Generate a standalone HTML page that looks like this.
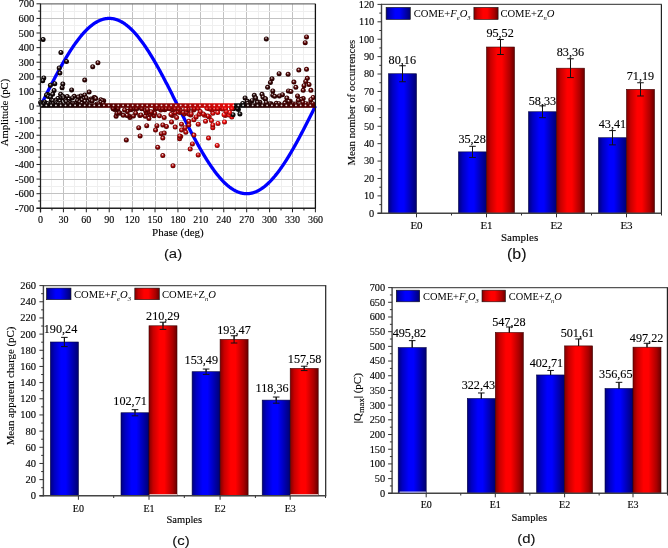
<!DOCTYPE html>
<html><head><meta charset="utf-8"><style>
html,body{margin:0;padding:0;background:#fff;width:668px;height:548px;overflow:hidden}
svg{display:block;will-change:transform}
</style></head><body>
<svg width="668" height="548" viewBox="0 0 668 548">
<defs>
<linearGradient id="gB" x1="0" x2="1" y1="0" y2="0">
<stop offset="0" stop-color="#000080"/><stop offset="0.15" stop-color="#0000c0"/><stop offset="0.38" stop-color="#0000ff"/><stop offset="0.55" stop-color="#0000ff"/><stop offset="0.85" stop-color="#0000a0"/><stop offset="1" stop-color="#000070"/></linearGradient>
<linearGradient id="gR" x1="0" x2="1" y1="0" y2="0">
<stop offset="0" stop-color="#800000"/><stop offset="0.15" stop-color="#c80000"/><stop offset="0.38" stop-color="#ff0000"/><stop offset="0.55" stop-color="#ff0000"/><stop offset="0.85" stop-color="#a80000"/><stop offset="1" stop-color="#680000"/></linearGradient>
</defs>
<rect width="668" height="548" fill="#fff"/>
<line x1="51.50" y1="3.80" x2="51.50" y2="208.30" stroke="#efefef" stroke-width="1" /><line x1="63.50" y1="3.80" x2="63.50" y2="208.30" stroke="#c2c2c2" stroke-width="1" /><line x1="74.50" y1="3.80" x2="74.50" y2="208.30" stroke="#efefef" stroke-width="1" /><line x1="86.50" y1="3.80" x2="86.50" y2="208.30" stroke="#c2c2c2" stroke-width="1" /><line x1="97.50" y1="3.80" x2="97.50" y2="208.30" stroke="#efefef" stroke-width="1" /><line x1="109.50" y1="3.80" x2="109.50" y2="208.30" stroke="#c2c2c2" stroke-width="1" /><line x1="120.50" y1="3.80" x2="120.50" y2="208.30" stroke="#efefef" stroke-width="1" /><line x1="132.50" y1="3.80" x2="132.50" y2="208.30" stroke="#c2c2c2" stroke-width="1" /><line x1="143.50" y1="3.80" x2="143.50" y2="208.30" stroke="#efefef" stroke-width="1" /><line x1="155.50" y1="3.80" x2="155.50" y2="208.30" stroke="#c2c2c2" stroke-width="1" /><line x1="166.50" y1="3.80" x2="166.50" y2="208.30" stroke="#efefef" stroke-width="1" /><line x1="177.50" y1="3.80" x2="177.50" y2="208.30" stroke="#c2c2c2" stroke-width="1" /><line x1="189.50" y1="3.80" x2="189.50" y2="208.30" stroke="#efefef" stroke-width="1" /><line x1="200.50" y1="3.80" x2="200.50" y2="208.30" stroke="#c2c2c2" stroke-width="1" /><line x1="212.50" y1="3.80" x2="212.50" y2="208.30" stroke="#efefef" stroke-width="1" /><line x1="223.50" y1="3.80" x2="223.50" y2="208.30" stroke="#c2c2c2" stroke-width="1" /><line x1="235.50" y1="3.80" x2="235.50" y2="208.30" stroke="#efefef" stroke-width="1" /><line x1="246.50" y1="3.80" x2="246.50" y2="208.30" stroke="#c2c2c2" stroke-width="1" /><line x1="258.50" y1="3.80" x2="258.50" y2="208.30" stroke="#efefef" stroke-width="1" /><line x1="269.50" y1="3.80" x2="269.50" y2="208.30" stroke="#c2c2c2" stroke-width="1" /><line x1="281.50" y1="3.80" x2="281.50" y2="208.30" stroke="#efefef" stroke-width="1" /><line x1="292.50" y1="3.80" x2="292.50" y2="208.30" stroke="#c2c2c2" stroke-width="1" /><line x1="303.50" y1="3.80" x2="303.50" y2="208.30" stroke="#efefef" stroke-width="1" /><line x1="40.50" y1="200.50" x2="315.40" y2="200.50" stroke="#efefef" stroke-width="1" /><line x1="40.50" y1="193.50" x2="315.40" y2="193.50" stroke="#c2c2c2" stroke-width="1" /><line x1="40.50" y1="186.50" x2="315.40" y2="186.50" stroke="#efefef" stroke-width="1" /><line x1="40.50" y1="179.50" x2="315.40" y2="179.50" stroke="#c2c2c2" stroke-width="1" /><line x1="40.50" y1="171.50" x2="315.40" y2="171.50" stroke="#efefef" stroke-width="1" /><line x1="40.50" y1="164.50" x2="315.40" y2="164.50" stroke="#c2c2c2" stroke-width="1" /><line x1="40.50" y1="157.50" x2="315.40" y2="157.50" stroke="#efefef" stroke-width="1" /><line x1="40.50" y1="149.50" x2="315.40" y2="149.50" stroke="#c2c2c2" stroke-width="1" /><line x1="40.50" y1="142.50" x2="315.40" y2="142.50" stroke="#efefef" stroke-width="1" /><line x1="40.50" y1="135.50" x2="315.40" y2="135.50" stroke="#c2c2c2" stroke-width="1" /><line x1="40.50" y1="127.50" x2="315.40" y2="127.50" stroke="#efefef" stroke-width="1" /><line x1="40.50" y1="120.50" x2="315.40" y2="120.50" stroke="#c2c2c2" stroke-width="1" /><line x1="40.50" y1="113.50" x2="315.40" y2="113.50" stroke="#efefef" stroke-width="1" /><line x1="40.50" y1="106.50" x2="315.40" y2="106.50" stroke="#c2c2c2" stroke-width="1" /><line x1="40.50" y1="98.50" x2="315.40" y2="98.50" stroke="#efefef" stroke-width="1" /><line x1="40.50" y1="91.50" x2="315.40" y2="91.50" stroke="#c2c2c2" stroke-width="1" /><line x1="40.50" y1="84.50" x2="315.40" y2="84.50" stroke="#efefef" stroke-width="1" /><line x1="40.50" y1="76.50" x2="315.40" y2="76.50" stroke="#c2c2c2" stroke-width="1" /><line x1="40.50" y1="69.50" x2="315.40" y2="69.50" stroke="#efefef" stroke-width="1" /><line x1="40.50" y1="62.50" x2="315.40" y2="62.50" stroke="#c2c2c2" stroke-width="1" /><line x1="40.50" y1="54.50" x2="315.40" y2="54.50" stroke="#efefef" stroke-width="1" /><line x1="40.50" y1="47.50" x2="315.40" y2="47.50" stroke="#c2c2c2" stroke-width="1" /><line x1="40.50" y1="40.50" x2="315.40" y2="40.50" stroke="#efefef" stroke-width="1" /><line x1="40.50" y1="33.50" x2="315.40" y2="33.50" stroke="#c2c2c2" stroke-width="1" /><line x1="40.50" y1="25.50" x2="315.40" y2="25.50" stroke="#efefef" stroke-width="1" /><line x1="40.50" y1="18.50" x2="315.40" y2="18.50" stroke="#c2c2c2" stroke-width="1" /><line x1="40.50" y1="11.50" x2="315.40" y2="11.50" stroke="#efefef" stroke-width="1" /><polyline points="40.50,106.05 40.88,105.29 41.26,104.52 41.65,103.76 42.03,102.99 42.41,102.23 42.79,101.46 43.17,100.70 43.55,99.94 43.94,99.17 44.32,98.41 44.70,97.65 45.08,96.89 45.46,96.13 45.85,95.37 46.23,94.61 46.61,93.85 46.99,93.10 47.37,92.34 47.75,91.58 48.14,90.83 48.52,90.08 48.90,89.33 49.28,88.58 49.66,87.83 50.05,87.08 50.43,86.33 50.81,85.59 51.19,84.85 51.57,84.11 51.95,83.37 52.34,82.63 52.72,81.89 53.10,81.16 53.48,80.43 53.86,79.70 54.24,78.97 54.63,78.24 55.01,77.52 55.39,76.79 55.77,76.07 56.15,75.36 56.54,74.64 56.92,73.93 57.30,73.22 57.68,72.51 58.06,71.81 58.44,71.10 58.83,70.40 59.21,69.71 59.59,69.01 59.97,68.32 60.35,67.63 60.74,66.94 61.12,66.26 61.50,65.58 61.88,64.90 62.26,64.23 62.64,63.56 63.03,62.89 63.41,62.23 63.79,61.57 64.17,60.91 64.55,60.26 64.94,59.61 65.32,58.96 65.70,58.32 66.08,57.68 66.46,57.04 66.84,56.41 67.23,55.78 67.61,55.16 67.99,54.53 68.37,53.92 68.75,53.31 69.14,52.70 69.52,52.09 69.90,51.49 70.28,50.89 70.66,50.30 71.04,49.71 71.43,49.13 71.81,48.55 72.19,47.98 72.57,47.41 72.95,46.84 73.34,46.28 73.72,45.72 74.10,45.17 74.48,44.62 74.86,44.08 75.24,43.54 75.63,43.01 76.01,42.48 76.39,41.95 76.77,41.43 77.15,40.92 77.54,40.41 77.92,39.91 78.30,39.41 78.68,38.91 79.06,38.42 79.44,37.94 79.83,37.46 80.21,36.99 80.59,36.52 80.97,36.06 81.35,35.60 81.73,35.15 82.12,34.70 82.50,34.26 82.88,33.82 83.26,33.39 83.64,32.97 84.03,32.55 84.41,32.13 84.79,31.72 85.17,31.32 85.55,30.93 85.93,30.53 86.32,30.15 86.70,29.77 87.08,29.40 87.46,29.03 87.84,28.67 88.23,28.31 88.61,27.96 88.99,27.62 89.37,27.28 89.75,26.94 90.13,26.62 90.52,26.30 90.90,25.98 91.28,25.68 91.66,25.37 92.04,25.08 92.43,24.79 92.81,24.51 93.19,24.23 93.57,23.96 93.95,23.69 94.33,23.43 94.72,23.18 95.10,22.94 95.48,22.70 95.86,22.46 96.24,22.24 96.63,22.02 97.01,21.80 97.39,21.59 97.77,21.39 98.15,21.20 98.53,21.01 98.92,20.83 99.30,20.65 99.68,20.48 100.06,20.32 100.44,20.17 100.83,20.02 101.21,19.87 101.59,19.74 101.97,19.61 102.35,19.49 102.73,19.37 103.12,19.26 103.50,19.16 103.88,19.06 104.26,18.97 104.64,18.89 105.03,18.81 105.41,18.74 105.79,18.68 106.17,18.62 106.55,18.57 106.93,18.53 107.32,18.49 107.70,18.46 108.08,18.44 108.46,18.42 108.84,18.41 109.22,18.41 109.61,18.41 109.99,18.42 110.37,18.44 110.75,18.46 111.13,18.49 111.52,18.53 111.90,18.57 112.28,18.62 112.66,18.68 113.04,18.74 113.42,18.81 113.81,18.89 114.19,18.97 114.57,19.06 114.95,19.16 115.33,19.26 115.72,19.37 116.10,19.49 116.48,19.61 116.86,19.74 117.24,19.87 117.62,20.02 118.01,20.17 118.39,20.32 118.77,20.48 119.15,20.65 119.53,20.83 119.92,21.01 120.30,21.20 120.68,21.39 121.06,21.59 121.44,21.80 121.82,22.02 122.21,22.24 122.59,22.46 122.97,22.70 123.35,22.94 123.73,23.18 124.12,23.43 124.50,23.69 124.88,23.96 125.26,24.23 125.64,24.51 126.02,24.79 126.41,25.08 126.79,25.37 127.17,25.68 127.55,25.98 127.93,26.30 128.32,26.62 128.70,26.94 129.08,27.28 129.46,27.62 129.84,27.96 130.22,28.31 130.61,28.67 130.99,29.03 131.37,29.40 131.75,29.77 132.13,30.15 132.52,30.53 132.90,30.93 133.28,31.32 133.66,31.72 134.04,32.13 134.42,32.55 134.81,32.97 135.19,33.39 135.57,33.82 135.95,34.26 136.33,34.70 136.71,35.15 137.10,35.60 137.48,36.06 137.86,36.52 138.24,36.99 138.62,37.46 139.01,37.94 139.39,38.42 139.77,38.91 140.15,39.41 140.53,39.91 140.91,40.41 141.30,40.92 141.68,41.43 142.06,41.95 142.44,42.48 142.82,43.01 143.21,43.54 143.59,44.08 143.97,44.62 144.35,45.17 144.73,45.72 145.11,46.28 145.50,46.84 145.88,47.41 146.26,47.98 146.64,48.55 147.02,49.13 147.41,49.71 147.79,50.30 148.17,50.89 148.55,51.49 148.93,52.09 149.31,52.70 149.70,53.31 150.08,53.92 150.46,54.53 150.84,55.16 151.22,55.78 151.61,56.41 151.99,57.04 152.37,57.68 152.75,58.32 153.13,58.96 153.51,59.61 153.90,60.26 154.28,60.91 154.66,61.57 155.04,62.23 155.42,62.89 155.81,63.56 156.19,64.23 156.57,64.90 156.95,65.58 157.33,66.26 157.71,66.94 158.10,67.63 158.48,68.32 158.86,69.01 159.24,69.71 159.62,70.40 160.01,71.10 160.39,71.81 160.77,72.51 161.15,73.22 161.53,73.93 161.91,74.64 162.30,75.36 162.68,76.07 163.06,76.79 163.44,77.52 163.82,78.24 164.20,78.97 164.59,79.70 164.97,80.43 165.35,81.16 165.73,81.89 166.11,82.63 166.50,83.37 166.88,84.11 167.26,84.85 167.64,85.59 168.02,86.33 168.40,87.08 168.79,87.83 169.17,88.58 169.55,89.33 169.93,90.08 170.31,90.83 170.70,91.58 171.08,92.34 171.46,93.10 171.84,93.85 172.22,94.61 172.60,95.37 172.99,96.13 173.37,96.89 173.75,97.65 174.13,98.41 174.51,99.17 174.90,99.94 175.28,100.70 175.66,101.46 176.04,102.23 176.42,102.99 176.80,103.76 177.19,104.52 177.57,105.29 177.95,106.05 178.33,106.81 178.71,107.58 179.10,108.34 179.48,109.11 179.86,109.87 180.24,110.64 180.62,111.40 181.00,112.16 181.39,112.93 181.77,113.69 182.15,114.45 182.53,115.21 182.91,115.97 183.30,116.73 183.68,117.49 184.06,118.25 184.44,119.00 184.82,119.76 185.20,120.52 185.59,121.27 185.97,122.02 186.35,122.77 186.73,123.52 187.11,124.27 187.50,125.02 187.88,125.77 188.26,126.51 188.64,127.25 189.02,127.99 189.40,128.73 189.79,129.47 190.17,130.21 190.55,130.94 190.93,131.67 191.31,132.40 191.69,133.13 192.08,133.86 192.46,134.58 192.84,135.31 193.22,136.03 193.60,136.74 193.99,137.46 194.37,138.17 194.75,138.88 195.13,139.59 195.51,140.29 195.89,141.00 196.28,141.70 196.66,142.39 197.04,143.09 197.42,143.78 197.80,144.47 198.19,145.16 198.57,145.84 198.95,146.52 199.33,147.20 199.71,147.87 200.09,148.54 200.48,149.21 200.86,149.87 201.24,150.53 201.62,151.19 202.00,151.84 202.39,152.49 202.77,153.14 203.15,153.78 203.53,154.42 203.91,155.06 204.29,155.69 204.68,156.32 205.06,156.94 205.44,157.57 205.82,158.18 206.20,158.79 206.59,159.40 206.97,160.01 207.35,160.61 207.73,161.21 208.11,161.80 208.49,162.39 208.88,162.97 209.26,163.55 209.64,164.12 210.02,164.69 210.40,165.26 210.79,165.82 211.17,166.38 211.55,166.93 211.93,167.48 212.31,168.02 212.69,168.56 213.08,169.09 213.46,169.62 213.84,170.15 214.22,170.67 214.60,171.18 214.99,171.69 215.37,172.19 215.75,172.69 216.13,173.19 216.51,173.68 216.89,174.16 217.28,174.64 217.66,175.11 218.04,175.58 218.42,176.04 218.80,176.50 219.18,176.95 219.57,177.40 219.95,177.84 220.33,178.28 220.71,178.71 221.09,179.13 221.48,179.55 221.86,179.97 222.24,180.38 222.62,180.78 223.00,181.17 223.38,181.57 223.77,181.95 224.15,182.33 224.53,182.70 224.91,183.07 225.29,183.43 225.68,183.79 226.06,184.14 226.44,184.48 226.82,184.82 227.20,185.16 227.58,185.48 227.97,185.80 228.35,186.12 228.73,186.42 229.11,186.73 229.49,187.02 229.88,187.31 230.26,187.59 230.64,187.87 231.02,188.14 231.40,188.41 231.78,188.67 232.17,188.92 232.55,189.16 232.93,189.40 233.31,189.64 233.69,189.86 234.08,190.08 234.46,190.30 234.84,190.51 235.22,190.71 235.60,190.90 235.98,191.09 236.37,191.27 236.75,191.45 237.13,191.62 237.51,191.78 237.89,191.93 238.28,192.08 238.66,192.23 239.04,192.36 239.42,192.49 239.80,192.61 240.18,192.73 240.57,192.84 240.95,192.94 241.33,193.04 241.71,193.13 242.09,193.21 242.48,193.29 242.86,193.36 243.24,193.42 243.62,193.48 244.00,193.53 244.38,193.57 244.77,193.61 245.15,193.64 245.53,193.66 245.91,193.68 246.29,193.69 246.68,193.69 247.06,193.69 247.44,193.68 247.82,193.66 248.20,193.64 248.58,193.61 248.97,193.57 249.35,193.53 249.73,193.48 250.11,193.42 250.49,193.36 250.87,193.29 251.26,193.21 251.64,193.13 252.02,193.04 252.40,192.94 252.78,192.84 253.17,192.73 253.55,192.61 253.93,192.49 254.31,192.36 254.69,192.23 255.07,192.08 255.46,191.93 255.84,191.78 256.22,191.62 256.60,191.45 256.98,191.27 257.37,191.09 257.75,190.90 258.13,190.71 258.51,190.51 258.89,190.30 259.27,190.08 259.66,189.86 260.04,189.64 260.42,189.40 260.80,189.16 261.18,188.92 261.57,188.67 261.95,188.41 262.33,188.14 262.71,187.87 263.09,187.59 263.47,187.31 263.86,187.02 264.24,186.73 264.62,186.42 265.00,186.12 265.38,185.80 265.77,185.48 266.15,185.16 266.53,184.82 266.91,184.48 267.29,184.14 267.67,183.79 268.06,183.43 268.44,183.07 268.82,182.70 269.20,182.33 269.58,181.95 269.97,181.57 270.35,181.17 270.73,180.78 271.11,180.38 271.49,179.97 271.87,179.55 272.26,179.13 272.64,178.71 273.02,178.28 273.40,177.84 273.78,177.40 274.16,176.95 274.55,176.50 274.93,176.04 275.31,175.58 275.69,175.11 276.07,174.64 276.46,174.16 276.84,173.68 277.22,173.19 277.60,172.69 277.98,172.19 278.36,171.69 278.75,171.18 279.13,170.67 279.51,170.15 279.89,169.62 280.27,169.09 280.66,168.56 281.04,168.02 281.42,167.48 281.80,166.93 282.18,166.38 282.56,165.82 282.95,165.26 283.33,164.69 283.71,164.12 284.09,163.55 284.47,162.97 284.86,162.39 285.24,161.80 285.62,161.21 286.00,160.61 286.38,160.01 286.76,159.40 287.15,158.79 287.53,158.18 287.91,157.57 288.29,156.94 288.67,156.32 289.06,155.69 289.44,155.06 289.82,154.42 290.20,153.78 290.58,153.14 290.96,152.49 291.35,151.84 291.73,151.19 292.11,150.53 292.49,149.87 292.87,149.21 293.26,148.54 293.64,147.87 294.02,147.20 294.40,146.52 294.78,145.84 295.16,145.16 295.55,144.47 295.93,143.78 296.31,143.09 296.69,142.39 297.07,141.70 297.46,141.00 297.84,140.29 298.22,139.59 298.60,138.88 298.98,138.17 299.36,137.46 299.75,136.74 300.13,136.03 300.51,135.31 300.89,134.58 301.27,133.86 301.65,133.13 302.04,132.40 302.42,131.67 302.80,130.94 303.18,130.21 303.56,129.47 303.95,128.73 304.33,127.99 304.71,127.25 305.09,126.51 305.47,125.77 305.85,125.02 306.24,124.27 306.62,123.52 307.00,122.77 307.38,122.02 307.76,121.27 308.15,120.52 308.53,119.76 308.91,119.00 309.29,118.25 309.67,117.49 310.05,116.73 310.44,115.97 310.82,115.21 311.20,114.45 311.58,113.69 311.96,112.93 312.35,112.16 312.73,111.40 313.11,110.64 313.49,109.87 313.87,109.11 314.25,108.34 314.64,107.58 315.02,106.81 315.40,106.05" fill="none" stroke="#0000ff" stroke-width="3.3" stroke-linejoin="round"/><defs><radialGradient id="s349" cx="0.5" cy="0.5" r="0.55" fx="0.42" fy="0.3"><stop offset="0" stop-color="#ffffff"/><stop offset="0.22" stop-color="#a57373"/><stop offset="0.5" stop-color="#5c0101"/><stop offset="1" stop-color="#290000"/></radialGradient><radialGradient id="s295" cx="0.5" cy="0.5" r="0.55" fx="0.42" fy="0.3"><stop offset="0" stop-color="#ffffff"/><stop offset="0.22" stop-color="#8e7676"/><stop offset="0.5" stop-color="#330606"/><stop offset="1" stop-color="#160202"/></radialGradient><radialGradient id="s4" cx="0.5" cy="0.5" r="0.55" fx="0.42" fy="0.3"><stop offset="0" stop-color="#ffffff"/><stop offset="0.22" stop-color="#7b7676"/><stop offset="0.5" stop-color="#0f0606"/><stop offset="1" stop-color="#060202"/></radialGradient><radialGradient id="s346" cx="0.5" cy="0.5" r="0.55" fx="0.42" fy="0.3"><stop offset="0" stop-color="#ffffff"/><stop offset="0.22" stop-color="#a47373"/><stop offset="0.5" stop-color="#5a0101"/><stop offset="1" stop-color="#280000"/></radialGradient><radialGradient id="s172" cx="0.5" cy="0.5" r="0.55" fx="0.42" fy="0.3"><stop offset="0" stop-color="#ffffff"/><stop offset="0.22" stop-color="#ce7575"/><stop offset="0.5" stop-color="#a60505"/><stop offset="1" stop-color="#4a0202"/></radialGradient><radialGradient id="s25" cx="0.5" cy="0.5" r="0.55" fx="0.42" fy="0.3"><stop offset="0" stop-color="#ffffff"/><stop offset="0.22" stop-color="#7f7575"/><stop offset="0.5" stop-color="#170505"/><stop offset="1" stop-color="#0a0202"/></radialGradient><radialGradient id="s160" cx="0.5" cy="0.5" r="0.55" fx="0.42" fy="0.3"><stop offset="0" stop-color="#ffffff"/><stop offset="0.22" stop-color="#c77474"/><stop offset="0.5" stop-color="#9a0404"/><stop offset="1" stop-color="#450101"/></radialGradient><radialGradient id="s205" cx="0.5" cy="0.5" r="0.55" fx="0.42" fy="0.3"><stop offset="0" stop-color="#ffffff"/><stop offset="0.22" stop-color="#e17676"/><stop offset="0.5" stop-color="#c90707"/><stop offset="1" stop-color="#5a0303"/></radialGradient><radialGradient id="s34" cx="0.5" cy="0.5" r="0.55" fx="0.42" fy="0.3"><stop offset="0" stop-color="#ffffff"/><stop offset="0.22" stop-color="#827474"/><stop offset="0.5" stop-color="#1d0404"/><stop offset="1" stop-color="#0d0101"/></radialGradient><radialGradient id="s76" cx="0.5" cy="0.5" r="0.55" fx="0.42" fy="0.3"><stop offset="0" stop-color="#ffffff"/><stop offset="0.22" stop-color="#957373"/><stop offset="0.5" stop-color="#3f0101"/><stop offset="1" stop-color="#1c0000"/></radialGradient><radialGradient id="s196" cx="0.5" cy="0.5" r="0.55" fx="0.42" fy="0.3"><stop offset="0" stop-color="#ffffff"/><stop offset="0.22" stop-color="#db7676"/><stop offset="0.5" stop-color="#bf0606"/><stop offset="1" stop-color="#550202"/></radialGradient><radialGradient id="s154" cx="0.5" cy="0.5" r="0.55" fx="0.42" fy="0.3"><stop offset="0" stop-color="#ffffff"/><stop offset="0.22" stop-color="#c47474"/><stop offset="0.5" stop-color="#940404"/><stop offset="1" stop-color="#420101"/></radialGradient><radialGradient id="s232" cx="0.5" cy="0.5" r="0.55" fx="0.42" fy="0.3"><stop offset="0" stop-color="#ffffff"/><stop offset="0.22" stop-color="#f17777"/><stop offset="0.5" stop-color="#e70909"/><stop offset="1" stop-color="#670404"/></radialGradient><radialGradient id="s67" cx="0.5" cy="0.5" r="0.55" fx="0.42" fy="0.3"><stop offset="0" stop-color="#ffffff"/><stop offset="0.22" stop-color="#907373"/><stop offset="0.5" stop-color="#360202"/><stop offset="1" stop-color="#180000"/></radialGradient><radialGradient id="s199" cx="0.5" cy="0.5" r="0.55" fx="0.42" fy="0.3"><stop offset="0" stop-color="#ffffff"/><stop offset="0.22" stop-color="#de7676"/><stop offset="0.5" stop-color="#c30606"/><stop offset="1" stop-color="#570202"/></radialGradient><radialGradient id="s337" cx="0.5" cy="0.5" r="0.55" fx="0.42" fy="0.3"><stop offset="0" stop-color="#ffffff"/><stop offset="0.22" stop-color="#a07373"/><stop offset="0.5" stop-color="#530202"/><stop offset="1" stop-color="#250000"/></radialGradient><radialGradient id="s112" cx="0.5" cy="0.5" r="0.55" fx="0.42" fy="0.3"><stop offset="0" stop-color="#ffffff"/><stop offset="0.22" stop-color="#ae7373"/><stop offset="0.5" stop-color="#6d0101"/><stop offset="1" stop-color="#310000"/></radialGradient><radialGradient id="s181" cx="0.5" cy="0.5" r="0.55" fx="0.42" fy="0.3"><stop offset="0" stop-color="#ffffff"/><stop offset="0.22" stop-color="#d37575"/><stop offset="0.5" stop-color="#af0505"/><stop offset="1" stop-color="#4e0202"/></radialGradient><radialGradient id="s313" cx="0.5" cy="0.5" r="0.55" fx="0.42" fy="0.3"><stop offset="0" stop-color="#ffffff"/><stop offset="0.22" stop-color="#967474"/><stop offset="0.5" stop-color="#410404"/><stop offset="1" stop-color="#1d0101"/></radialGradient><radialGradient id="s220" cx="0.5" cy="0.5" r="0.55" fx="0.42" fy="0.3"><stop offset="0" stop-color="#ffffff"/><stop offset="0.22" stop-color="#ea7777"/><stop offset="0.5" stop-color="#da0808"/><stop offset="1" stop-color="#620303"/></radialGradient><radialGradient id="s325" cx="0.5" cy="0.5" r="0.55" fx="0.42" fy="0.3"><stop offset="0" stop-color="#ffffff"/><stop offset="0.22" stop-color="#9b7474"/><stop offset="0.5" stop-color="#4a0303"/><stop offset="1" stop-color="#210101"/></radialGradient><radialGradient id="s184" cx="0.5" cy="0.5" r="0.55" fx="0.42" fy="0.3"><stop offset="0" stop-color="#ffffff"/><stop offset="0.22" stop-color="#d47575"/><stop offset="0.5" stop-color="#b20505"/><stop offset="1" stop-color="#500202"/></radialGradient><radialGradient id="s130" cx="0.5" cy="0.5" r="0.55" fx="0.42" fy="0.3"><stop offset="0" stop-color="#ffffff"/><stop offset="0.22" stop-color="#b77373"/><stop offset="0.5" stop-color="#7d0202"/><stop offset="1" stop-color="#380000"/></radialGradient><radialGradient id="s157" cx="0.5" cy="0.5" r="0.55" fx="0.42" fy="0.3"><stop offset="0" stop-color="#ffffff"/><stop offset="0.22" stop-color="#c57474"/><stop offset="0.5" stop-color="#970404"/><stop offset="1" stop-color="#430101"/></radialGradient><radialGradient id="s304" cx="0.5" cy="0.5" r="0.55" fx="0.42" fy="0.3"><stop offset="0" stop-color="#ffffff"/><stop offset="0.22" stop-color="#927575"/><stop offset="0.5" stop-color="#3a0505"/><stop offset="1" stop-color="#1a0202"/></radialGradient><radialGradient id="s190" cx="0.5" cy="0.5" r="0.55" fx="0.42" fy="0.3"><stop offset="0" stop-color="#ffffff"/><stop offset="0.22" stop-color="#d87676"/><stop offset="0.5" stop-color="#b90606"/><stop offset="1" stop-color="#530202"/></radialGradient><radialGradient id="s58" cx="0.5" cy="0.5" r="0.55" fx="0.42" fy="0.3"><stop offset="0" stop-color="#ffffff"/><stop offset="0.22" stop-color="#8c7474"/><stop offset="0.5" stop-color="#2f0303"/><stop offset="1" stop-color="#150101"/></radialGradient><radialGradient id="s1" cx="0.5" cy="0.5" r="0.55" fx="0.42" fy="0.3"><stop offset="0" stop-color="#ffffff"/><stop offset="0.22" stop-color="#7a7676"/><stop offset="0.5" stop-color="#0e0606"/><stop offset="1" stop-color="#060202"/></radialGradient><radialGradient id="s151" cx="0.5" cy="0.5" r="0.55" fx="0.42" fy="0.3"><stop offset="0" stop-color="#ffffff"/><stop offset="0.22" stop-color="#c27474"/><stop offset="0.5" stop-color="#910303"/><stop offset="1" stop-color="#410101"/></radialGradient><radialGradient id="s331" cx="0.5" cy="0.5" r="0.55" fx="0.42" fy="0.3"><stop offset="0" stop-color="#ffffff"/><stop offset="0.22" stop-color="#9d7373"/><stop offset="0.5" stop-color="#4e0202"/><stop offset="1" stop-color="#230000"/></radialGradient><radialGradient id="s301" cx="0.5" cy="0.5" r="0.55" fx="0.42" fy="0.3"><stop offset="0" stop-color="#ffffff"/><stop offset="0.22" stop-color="#917575"/><stop offset="0.5" stop-color="#370505"/><stop offset="1" stop-color="#180202"/></radialGradient><radialGradient id="s19" cx="0.5" cy="0.5" r="0.55" fx="0.42" fy="0.3"><stop offset="0" stop-color="#ffffff"/><stop offset="0.22" stop-color="#7d7575"/><stop offset="0.5" stop-color="#140505"/><stop offset="1" stop-color="#090202"/></radialGradient><radialGradient id="s28" cx="0.5" cy="0.5" r="0.55" fx="0.42" fy="0.3"><stop offset="0" stop-color="#ffffff"/><stop offset="0.22" stop-color="#807575"/><stop offset="0.5" stop-color="#190505"/><stop offset="1" stop-color="#0b0202"/></radialGradient><radialGradient id="s127" cx="0.5" cy="0.5" r="0.55" fx="0.42" fy="0.3"><stop offset="0" stop-color="#ffffff"/><stop offset="0.22" stop-color="#b57373"/><stop offset="0.5" stop-color="#7a0202"/><stop offset="1" stop-color="#360000"/></radialGradient><radialGradient id="s226" cx="0.5" cy="0.5" r="0.55" fx="0.42" fy="0.3"><stop offset="0" stop-color="#ffffff"/><stop offset="0.22" stop-color="#ed7777"/><stop offset="0.5" stop-color="#e00808"/><stop offset="1" stop-color="#640303"/></radialGradient><radialGradient id="s352" cx="0.5" cy="0.5" r="0.55" fx="0.42" fy="0.3"><stop offset="0" stop-color="#ffffff"/><stop offset="0.22" stop-color="#a67373"/><stop offset="0.5" stop-color="#5e0101"/><stop offset="1" stop-color="#2a0000"/></radialGradient><radialGradient id="s175" cx="0.5" cy="0.5" r="0.55" fx="0.42" fy="0.3"><stop offset="0" stop-color="#ffffff"/><stop offset="0.22" stop-color="#cf7575"/><stop offset="0.5" stop-color="#a90505"/><stop offset="1" stop-color="#4c0202"/></radialGradient><radialGradient id="s13" cx="0.5" cy="0.5" r="0.55" fx="0.42" fy="0.3"><stop offset="0" stop-color="#ffffff"/><stop offset="0.22" stop-color="#7c7676"/><stop offset="0.5" stop-color="#120606"/><stop offset="1" stop-color="#080202"/></radialGradient><radialGradient id="s163" cx="0.5" cy="0.5" r="0.55" fx="0.42" fy="0.3"><stop offset="0" stop-color="#ffffff"/><stop offset="0.22" stop-color="#c97474"/><stop offset="0.5" stop-color="#9d0404"/><stop offset="1" stop-color="#460101"/></radialGradient><radialGradient id="s139" cx="0.5" cy="0.5" r="0.55" fx="0.42" fy="0.3"><stop offset="0" stop-color="#ffffff"/><stop offset="0.22" stop-color="#bb7474"/><stop offset="0.5" stop-color="#850303"/><stop offset="1" stop-color="#3b0101"/></radialGradient><radialGradient id="s193" cx="0.5" cy="0.5" r="0.55" fx="0.42" fy="0.3"><stop offset="0" stop-color="#ffffff"/><stop offset="0.22" stop-color="#da7676"/><stop offset="0.5" stop-color="#bc0606"/><stop offset="1" stop-color="#540202"/></radialGradient><radialGradient id="s298" cx="0.5" cy="0.5" r="0.55" fx="0.42" fy="0.3"><stop offset="0" stop-color="#ffffff"/><stop offset="0.22" stop-color="#8f7575"/><stop offset="0.5" stop-color="#350505"/><stop offset="1" stop-color="#170202"/></radialGradient><radialGradient id="s334" cx="0.5" cy="0.5" r="0.55" fx="0.42" fy="0.3"><stop offset="0" stop-color="#ffffff"/><stop offset="0.22" stop-color="#9f7373"/><stop offset="0.5" stop-color="#510202"/><stop offset="1" stop-color="#240000"/></radialGradient><radialGradient id="s40" cx="0.5" cy="0.5" r="0.55" fx="0.42" fy="0.3"><stop offset="0" stop-color="#ffffff"/><stop offset="0.22" stop-color="#847474"/><stop offset="0.5" stop-color="#210404"/><stop offset="1" stop-color="#0e0101"/></radialGradient><radialGradient id="s241" cx="0.5" cy="0.5" r="0.55" fx="0.42" fy="0.3"><stop offset="0" stop-color="#ffffff"/><stop offset="0.22" stop-color="#f77777"/><stop offset="0.5" stop-color="#f20909"/><stop offset="1" stop-color="#6c0404"/></radialGradient><radialGradient id="s343" cx="0.5" cy="0.5" r="0.55" fx="0.42" fy="0.3"><stop offset="0" stop-color="#ffffff"/><stop offset="0.22" stop-color="#a27373"/><stop offset="0.5" stop-color="#570101"/><stop offset="1" stop-color="#270000"/></radialGradient><radialGradient id="s355" cx="0.5" cy="0.5" r="0.55" fx="0.42" fy="0.3"><stop offset="0" stop-color="#ffffff"/><stop offset="0.22" stop-color="#a87272"/><stop offset="0.5" stop-color="#610000"/><stop offset="1" stop-color="#2b0000"/></radialGradient><radialGradient id="s16" cx="0.5" cy="0.5" r="0.55" fx="0.42" fy="0.3"><stop offset="0" stop-color="#ffffff"/><stop offset="0.22" stop-color="#7d7575"/><stop offset="0.5" stop-color="#130505"/><stop offset="1" stop-color="#080202"/></radialGradient><radialGradient id="s217" cx="0.5" cy="0.5" r="0.55" fx="0.42" fy="0.3"><stop offset="0" stop-color="#ffffff"/><stop offset="0.22" stop-color="#e87777"/><stop offset="0.5" stop-color="#d60808"/><stop offset="1" stop-color="#600303"/></radialGradient><radialGradient id="s328" cx="0.5" cy="0.5" r="0.55" fx="0.42" fy="0.3"><stop offset="0" stop-color="#ffffff"/><stop offset="0.22" stop-color="#9c7474"/><stop offset="0.5" stop-color="#4c0303"/><stop offset="1" stop-color="#220101"/></radialGradient><radialGradient id="s223" cx="0.5" cy="0.5" r="0.55" fx="0.42" fy="0.3"><stop offset="0" stop-color="#ffffff"/><stop offset="0.22" stop-color="#ec7777"/><stop offset="0.5" stop-color="#dd0808"/><stop offset="1" stop-color="#630303"/></radialGradient><radialGradient id="s64" cx="0.5" cy="0.5" r="0.55" fx="0.42" fy="0.3"><stop offset="0" stop-color="#ffffff"/><stop offset="0.22" stop-color="#8f7373"/><stop offset="0.5" stop-color="#340202"/><stop offset="1" stop-color="#170000"/></radialGradient><radialGradient id="s142" cx="0.5" cy="0.5" r="0.55" fx="0.42" fy="0.3"><stop offset="0" stop-color="#ffffff"/><stop offset="0.22" stop-color="#bd7474"/><stop offset="0.5" stop-color="#880303"/><stop offset="1" stop-color="#3d0101"/></radialGradient><radialGradient id="s289" cx="0.5" cy="0.5" r="0.55" fx="0.42" fy="0.3"><stop offset="0" stop-color="#ffffff"/><stop offset="0.22" stop-color="#8c7676"/><stop offset="0.5" stop-color="#2e0606"/><stop offset="1" stop-color="#140202"/></radialGradient><radialGradient id="s10" cx="0.5" cy="0.5" r="0.55" fx="0.42" fy="0.3"><stop offset="0" stop-color="#ffffff"/><stop offset="0.22" stop-color="#7b7676"/><stop offset="0.5" stop-color="#100606"/><stop offset="1" stop-color="#070202"/></radialGradient><radialGradient id="s118" cx="0.5" cy="0.5" r="0.55" fx="0.42" fy="0.3"><stop offset="0" stop-color="#ffffff"/><stop offset="0.22" stop-color="#b27373"/><stop offset="0.5" stop-color="#730101"/><stop offset="1" stop-color="#330000"/></radialGradient><radialGradient id="s178" cx="0.5" cy="0.5" r="0.55" fx="0.42" fy="0.3"><stop offset="0" stop-color="#ffffff"/><stop offset="0.22" stop-color="#d17575"/><stop offset="0.5" stop-color="#ac0505"/><stop offset="1" stop-color="#4d0202"/></radialGradient><radialGradient id="s316" cx="0.5" cy="0.5" r="0.55" fx="0.42" fy="0.3"><stop offset="0" stop-color="#ffffff"/><stop offset="0.22" stop-color="#977474"/><stop offset="0.5" stop-color="#430404"/><stop offset="1" stop-color="#1e0101"/></radialGradient><radialGradient id="s7" cx="0.5" cy="0.5" r="0.55" fx="0.42" fy="0.3"><stop offset="0" stop-color="#ffffff"/><stop offset="0.22" stop-color="#7b7676"/><stop offset="0.5" stop-color="#0f0606"/><stop offset="1" stop-color="#060202"/></radialGradient><radialGradient id="s280" cx="0.5" cy="0.5" r="0.55" fx="0.42" fy="0.3"><stop offset="0" stop-color="#ffffff"/><stop offset="0.22" stop-color="#887676"/><stop offset="0.5" stop-color="#280707"/><stop offset="1" stop-color="#120303"/></radialGradient><radialGradient id="s202" cx="0.5" cy="0.5" r="0.55" fx="0.42" fy="0.3"><stop offset="0" stop-color="#ffffff"/><stop offset="0.22" stop-color="#df7676"/><stop offset="0.5" stop-color="#c60707"/><stop offset="1" stop-color="#590303"/></radialGradient><radialGradient id="s250" cx="0.5" cy="0.5" r="0.55" fx="0.42" fy="0.3"><stop offset="0" stop-color="#ffffff"/><stop offset="0.22" stop-color="#fd7878"/><stop offset="0.5" stop-color="#fc0a0a"/><stop offset="1" stop-color="#710404"/></radialGradient><radialGradient id="s100" cx="0.5" cy="0.5" r="0.55" fx="0.42" fy="0.3"><stop offset="0" stop-color="#ffffff"/><stop offset="0.22" stop-color="#a97373"/><stop offset="0.5" stop-color="#640101"/><stop offset="1" stop-color="#2d0000"/></radialGradient><radialGradient id="s136" cx="0.5" cy="0.5" r="0.55" fx="0.42" fy="0.3"><stop offset="0" stop-color="#ffffff"/><stop offset="0.22" stop-color="#ba7373"/><stop offset="0.5" stop-color="#830202"/><stop offset="1" stop-color="#3a0000"/></radialGradient><radialGradient id="s52" cx="0.5" cy="0.5" r="0.55" fx="0.42" fy="0.3"><stop offset="0" stop-color="#ffffff"/><stop offset="0.22" stop-color="#897474"/><stop offset="0.5" stop-color="#2a0303"/><stop offset="1" stop-color="#120101"/></radialGradient><radialGradient id="s121" cx="0.5" cy="0.5" r="0.55" fx="0.42" fy="0.3"><stop offset="0" stop-color="#ffffff"/><stop offset="0.22" stop-color="#b37373"/><stop offset="0.5" stop-color="#750202"/><stop offset="1" stop-color="#340000"/></radialGradient><radialGradient id="s46" cx="0.5" cy="0.5" r="0.55" fx="0.42" fy="0.3"><stop offset="0" stop-color="#ffffff"/><stop offset="0.22" stop-color="#877474"/><stop offset="0.5" stop-color="#250404"/><stop offset="1" stop-color="#100101"/></radialGradient><radialGradient id="s307" cx="0.5" cy="0.5" r="0.55" fx="0.42" fy="0.3"><stop offset="0" stop-color="#ffffff"/><stop offset="0.22" stop-color="#937575"/><stop offset="0.5" stop-color="#3c0505"/><stop offset="1" stop-color="#1b0202"/></radialGradient><radialGradient id="s115" cx="0.5" cy="0.5" r="0.55" fx="0.42" fy="0.3"><stop offset="0" stop-color="#ffffff"/><stop offset="0.22" stop-color="#b07373"/><stop offset="0.5" stop-color="#700101"/><stop offset="1" stop-color="#320000"/></radialGradient><radialGradient id="s148" cx="0.5" cy="0.5" r="0.55" fx="0.42" fy="0.3"><stop offset="0" stop-color="#ffffff"/><stop offset="0.22" stop-color="#c07474"/><stop offset="0.5" stop-color="#8e0303"/><stop offset="1" stop-color="#3f0101"/></radialGradient><radialGradient id="s214" cx="0.5" cy="0.5" r="0.55" fx="0.42" fy="0.3"><stop offset="0" stop-color="#ffffff"/><stop offset="0.22" stop-color="#e67676"/><stop offset="0.5" stop-color="#d30707"/><stop offset="1" stop-color="#5e0303"/></radialGradient><radialGradient id="s109" cx="0.5" cy="0.5" r="0.55" fx="0.42" fy="0.3"><stop offset="0" stop-color="#ffffff"/><stop offset="0.22" stop-color="#ad7373"/><stop offset="0.5" stop-color="#6b0101"/><stop offset="1" stop-color="#300000"/></radialGradient><radialGradient id="s49" cx="0.5" cy="0.5" r="0.55" fx="0.42" fy="0.3"><stop offset="0" stop-color="#ffffff"/><stop offset="0.22" stop-color="#887474"/><stop offset="0.5" stop-color="#270303"/><stop offset="1" stop-color="#110101"/></radialGradient><radialGradient id="s247" cx="0.5" cy="0.5" r="0.55" fx="0.42" fy="0.3"><stop offset="0" stop-color="#ffffff"/><stop offset="0.22" stop-color="#fb7878"/><stop offset="0.5" stop-color="#f90a0a"/><stop offset="1" stop-color="#700404"/></radialGradient><radialGradient id="s292" cx="0.5" cy="0.5" r="0.55" fx="0.42" fy="0.3"><stop offset="0" stop-color="#ffffff"/><stop offset="0.22" stop-color="#8d7676"/><stop offset="0.5" stop-color="#310606"/><stop offset="1" stop-color="#160202"/></radialGradient><radialGradient id="s253" cx="0.5" cy="0.5" r="0.55" fx="0.42" fy="0.3"><stop offset="0" stop-color="#ffffff"/><stop offset="0.22" stop-color="#7b7878"/><stop offset="0.5" stop-color="#0f0a0a"/><stop offset="1" stop-color="#060404"/></radialGradient><radialGradient id="s70" cx="0.5" cy="0.5" r="0.55" fx="0.42" fy="0.3"><stop offset="0" stop-color="#ffffff"/><stop offset="0.22" stop-color="#927373"/><stop offset="0.5" stop-color="#390101"/><stop offset="1" stop-color="#190000"/></radialGradient><radialGradient id="s208" cx="0.5" cy="0.5" r="0.55" fx="0.42" fy="0.3"><stop offset="0" stop-color="#ffffff"/><stop offset="0.22" stop-color="#e27676"/><stop offset="0.5" stop-color="#cc0707"/><stop offset="1" stop-color="#5b0303"/></radialGradient><radialGradient id="s268" cx="0.5" cy="0.5" r="0.55" fx="0.42" fy="0.3"><stop offset="0" stop-color="#ffffff"/><stop offset="0.22" stop-color="#837777"/><stop offset="0.5" stop-color="#1e0808"/><stop offset="1" stop-color="#0d0303"/></radialGradient><radialGradient id="s322" cx="0.5" cy="0.5" r="0.55" fx="0.42" fy="0.3"><stop offset="0" stop-color="#ffffff"/><stop offset="0.22" stop-color="#997474"/><stop offset="0.5" stop-color="#470303"/><stop offset="1" stop-color="#1f0101"/></radialGradient><radialGradient id="s211" cx="0.5" cy="0.5" r="0.55" fx="0.42" fy="0.3"><stop offset="0" stop-color="#ffffff"/><stop offset="0.22" stop-color="#e57676"/><stop offset="0.5" stop-color="#d00707"/><stop offset="1" stop-color="#5d0303"/></radialGradient><radialGradient id="s262" cx="0.5" cy="0.5" r="0.55" fx="0.42" fy="0.3"><stop offset="0" stop-color="#ffffff"/><stop offset="0.22" stop-color="#7b7878"/><stop offset="0.5" stop-color="#0f0a0a"/><stop offset="1" stop-color="#060404"/></radialGradient><radialGradient id="s187" cx="0.5" cy="0.5" r="0.55" fx="0.42" fy="0.3"><stop offset="0" stop-color="#ffffff"/><stop offset="0.22" stop-color="#d67676"/><stop offset="0.5" stop-color="#b60606"/><stop offset="1" stop-color="#510202"/></radialGradient><radialGradient id="s22" cx="0.5" cy="0.5" r="0.55" fx="0.42" fy="0.3"><stop offset="0" stop-color="#ffffff"/><stop offset="0.22" stop-color="#7e7575"/><stop offset="0.5" stop-color="#160505"/><stop offset="1" stop-color="#090202"/></radialGradient><radialGradient id="s73" cx="0.5" cy="0.5" r="0.55" fx="0.42" fy="0.3"><stop offset="0" stop-color="#ffffff"/><stop offset="0.22" stop-color="#937373"/><stop offset="0.5" stop-color="#3c0101"/><stop offset="1" stop-color="#1b0000"/></radialGradient><radialGradient id="s97" cx="0.5" cy="0.5" r="0.55" fx="0.42" fy="0.3"><stop offset="0" stop-color="#ffffff"/><stop offset="0.22" stop-color="#a87272"/><stop offset="0.5" stop-color="#620000"/><stop offset="1" stop-color="#2c0000"/></radialGradient><radialGradient id="s106" cx="0.5" cy="0.5" r="0.55" fx="0.42" fy="0.3"><stop offset="0" stop-color="#ffffff"/><stop offset="0.22" stop-color="#ac7373"/><stop offset="0.5" stop-color="#690101"/><stop offset="1" stop-color="#2f0000"/></radialGradient><radialGradient id="s124" cx="0.5" cy="0.5" r="0.55" fx="0.42" fy="0.3"><stop offset="0" stop-color="#ffffff"/><stop offset="0.22" stop-color="#b47373"/><stop offset="0.5" stop-color="#780202"/><stop offset="1" stop-color="#360000"/></radialGradient><radialGradient id="s340" cx="0.5" cy="0.5" r="0.55" fx="0.42" fy="0.3"><stop offset="0" stop-color="#ffffff"/><stop offset="0.22" stop-color="#a17373"/><stop offset="0.5" stop-color="#550202"/><stop offset="1" stop-color="#260000"/></radialGradient><radialGradient id="s145" cx="0.5" cy="0.5" r="0.55" fx="0.42" fy="0.3"><stop offset="0" stop-color="#ffffff"/><stop offset="0.22" stop-color="#bf7474"/><stop offset="0.5" stop-color="#8b0303"/><stop offset="1" stop-color="#3e0101"/></radialGradient><radialGradient id="s229" cx="0.5" cy="0.5" r="0.55" fx="0.42" fy="0.3"><stop offset="0" stop-color="#ffffff"/><stop offset="0.22" stop-color="#f07777"/><stop offset="0.5" stop-color="#e40808"/><stop offset="1" stop-color="#660303"/></radialGradient><radialGradient id="s103" cx="0.5" cy="0.5" r="0.55" fx="0.42" fy="0.3"><stop offset="0" stop-color="#ffffff"/><stop offset="0.22" stop-color="#aa7373"/><stop offset="0.5" stop-color="#660101"/><stop offset="1" stop-color="#2d0000"/></radialGradient><radialGradient id="s79" cx="0.5" cy="0.5" r="0.55" fx="0.42" fy="0.3"><stop offset="0" stop-color="#ffffff"/><stop offset="0.22" stop-color="#977272"/><stop offset="0.5" stop-color="#420000"/><stop offset="1" stop-color="#1d0000"/></radialGradient><radialGradient id="s55" cx="0.5" cy="0.5" r="0.55" fx="0.42" fy="0.3"><stop offset="0" stop-color="#ffffff"/><stop offset="0.22" stop-color="#8a7474"/><stop offset="0.5" stop-color="#2c0303"/><stop offset="1" stop-color="#130101"/></radialGradient><radialGradient id="s31" cx="0.5" cy="0.5" r="0.55" fx="0.42" fy="0.3"><stop offset="0" stop-color="#ffffff"/><stop offset="0.22" stop-color="#817575"/><stop offset="0.5" stop-color="#1b0505"/><stop offset="1" stop-color="#0c0202"/></radialGradient><radialGradient id="s277" cx="0.5" cy="0.5" r="0.55" fx="0.42" fy="0.3"><stop offset="0" stop-color="#ffffff"/><stop offset="0.22" stop-color="#877676"/><stop offset="0.5" stop-color="#250707"/><stop offset="1" stop-color="#100303"/></radialGradient><radialGradient id="s82" cx="0.5" cy="0.5" r="0.55" fx="0.42" fy="0.3"><stop offset="0" stop-color="#ffffff"/><stop offset="0.22" stop-color="#987272"/><stop offset="0.5" stop-color="#450000"/><stop offset="1" stop-color="#1f0000"/></radialGradient><radialGradient id="s244" cx="0.5" cy="0.5" r="0.55" fx="0.42" fy="0.3"><stop offset="0" stop-color="#ffffff"/><stop offset="0.22" stop-color="#f97777"/><stop offset="0.5" stop-color="#f50909"/><stop offset="1" stop-color="#6e0404"/></radialGradient><radialGradient id="s271" cx="0.5" cy="0.5" r="0.55" fx="0.42" fy="0.3"><stop offset="0" stop-color="#ffffff"/><stop offset="0.22" stop-color="#847777"/><stop offset="0.5" stop-color="#210808"/><stop offset="1" stop-color="#0e0303"/></radialGradient><radialGradient id="s283" cx="0.5" cy="0.5" r="0.55" fx="0.42" fy="0.3"><stop offset="0" stop-color="#ffffff"/><stop offset="0.22" stop-color="#897676"/><stop offset="0.5" stop-color="#2a0707"/><stop offset="1" stop-color="#120303"/></radialGradient><radialGradient id="s286" cx="0.5" cy="0.5" r="0.55" fx="0.42" fy="0.3"><stop offset="0" stop-color="#ffffff"/><stop offset="0.22" stop-color="#8a7676"/><stop offset="0.5" stop-color="#2c0606"/><stop offset="1" stop-color="#130202"/></radialGradient><radialGradient id="s259" cx="0.5" cy="0.5" r="0.55" fx="0.42" fy="0.3"><stop offset="0" stop-color="#ffffff"/><stop offset="0.22" stop-color="#7b7878"/><stop offset="0.5" stop-color="#0f0a0a"/><stop offset="1" stop-color="#060404"/></radialGradient><radialGradient id="s238" cx="0.5" cy="0.5" r="0.55" fx="0.42" fy="0.3"><stop offset="0" stop-color="#ffffff"/><stop offset="0.22" stop-color="#f57777"/><stop offset="0.5" stop-color="#ee0909"/><stop offset="1" stop-color="#6b0404"/></radialGradient><radialGradient id="s274" cx="0.5" cy="0.5" r="0.55" fx="0.42" fy="0.3"><stop offset="0" stop-color="#ffffff"/><stop offset="0.22" stop-color="#867676"/><stop offset="0.5" stop-color="#230707"/><stop offset="1" stop-color="#0f0303"/></radialGradient><radialGradient id="s319" cx="0.5" cy="0.5" r="0.55" fx="0.42" fy="0.3"><stop offset="0" stop-color="#ffffff"/><stop offset="0.22" stop-color="#987474"/><stop offset="0.5" stop-color="#450404"/><stop offset="1" stop-color="#1f0101"/></radialGradient><radialGradient id="s133" cx="0.5" cy="0.5" r="0.55" fx="0.42" fy="0.3"><stop offset="0" stop-color="#ffffff"/><stop offset="0.22" stop-color="#b97373"/><stop offset="0.5" stop-color="#800202"/><stop offset="1" stop-color="#390000"/></radialGradient><radialGradient id="s310" cx="0.5" cy="0.5" r="0.55" fx="0.42" fy="0.3"><stop offset="0" stop-color="#ffffff"/><stop offset="0.22" stop-color="#947474"/><stop offset="0.5" stop-color="#3e0404"/><stop offset="1" stop-color="#1b0101"/></radialGradient><radialGradient id="s94" cx="0.5" cy="0.5" r="0.55" fx="0.42" fy="0.3"><stop offset="0" stop-color="#ffffff"/><stop offset="0.22" stop-color="#a77272"/><stop offset="0.5" stop-color="#600000"/><stop offset="1" stop-color="#2b0000"/></radialGradient><radialGradient id="s265" cx="0.5" cy="0.5" r="0.55" fx="0.42" fy="0.3"><stop offset="0" stop-color="#ffffff"/><stop offset="0.22" stop-color="#7b7878"/><stop offset="0.5" stop-color="#0f0a0a"/><stop offset="1" stop-color="#060404"/></radialGradient><radialGradient id="s166" cx="0.5" cy="0.5" r="0.55" fx="0.42" fy="0.3"><stop offset="0" stop-color="#ffffff"/><stop offset="0.22" stop-color="#ca7474"/><stop offset="0.5" stop-color="#a00404"/><stop offset="1" stop-color="#480101"/></radialGradient><radialGradient id="s43" cx="0.5" cy="0.5" r="0.55" fx="0.42" fy="0.3"><stop offset="0" stop-color="#ffffff"/><stop offset="0.22" stop-color="#867474"/><stop offset="0.5" stop-color="#230404"/><stop offset="1" stop-color="#0f0101"/></radialGradient><radialGradient id="s61" cx="0.5" cy="0.5" r="0.55" fx="0.42" fy="0.3"><stop offset="0" stop-color="#ffffff"/><stop offset="0.22" stop-color="#8d7373"/><stop offset="0.5" stop-color="#310202"/><stop offset="1" stop-color="#160000"/></radialGradient></defs><circle cx="306.50" cy="36.90" r="2.5" fill="url(#s349)"/><circle cx="266.30" cy="38.90" r="2.5" fill="url(#s295)"/><circle cx="43.10" cy="39.50" r="2.5" fill="url(#s4)"/><circle cx="305.20" cy="42.70" r="2.5" fill="url(#s346)"/><circle cx="173.00" cy="165.80" r="2.5" fill="url(#s172)"/><circle cx="60.90" cy="52.60" r="2.5" fill="url(#s25)"/><circle cx="162.80" cy="155.60" r="2.5" fill="url(#s160)"/><circle cx="198.20" cy="154.90" r="2.5" fill="url(#s205)"/><circle cx="66.50" cy="61.40" r="2.5" fill="url(#s34)"/><circle cx="97.90" cy="62.80" r="2.5" fill="url(#s76)"/><circle cx="190.20" cy="149.00" r="2.5" fill="url(#s196)"/><circle cx="157.70" cy="147.30" r="2.5" fill="url(#s154)"/><circle cx="217.20" cy="145.40" r="2.5" fill="url(#s232)"/><circle cx="92.70" cy="66.80" r="2.5" fill="url(#s67)"/><circle cx="59.20" cy="68.00" r="2.5" fill="url(#s25)"/><circle cx="192.40" cy="143.90" r="2.5" fill="url(#s199)"/><circle cx="306.50" cy="69.30" r="2.5" fill="url(#s349)"/><circle cx="298.80" cy="70.10" r="2.5" fill="url(#s337)"/><circle cx="126.30" cy="140.00" r="2.5" fill="url(#s112)"/><circle cx="59.90" cy="73.10" r="2.5" fill="url(#s25)"/><circle cx="179.60" cy="138.80" r="2.5" fill="url(#s181)"/><circle cx="279.10" cy="73.70" r="2.5" fill="url(#s313)"/><circle cx="162.80" cy="138.10" r="2.5" fill="url(#s160)"/><circle cx="208.50" cy="138.10" r="2.5" fill="url(#s220)"/><circle cx="288.10" cy="74.20" r="2.5" fill="url(#s325)"/><circle cx="180.70" cy="136.60" r="2.5" fill="url(#s184)"/><circle cx="140.10" cy="135.90" r="2.5" fill="url(#s130)"/><circle cx="179.60" cy="135.90" r="2.5" fill="url(#s181)"/><circle cx="193.90" cy="135.10" r="2.5" fill="url(#s199)"/><circle cx="43.80" cy="77.90" r="2.5" fill="url(#s4)"/><circle cx="307.30" cy="78.30" r="2.5" fill="url(#s349)"/><circle cx="161.30" cy="133.70" r="2.5" fill="url(#s157)"/><circle cx="272.00" cy="78.80" r="2.5" fill="url(#s304)"/><circle cx="164.20" cy="133.00" r="2.5" fill="url(#s160)"/><circle cx="185.80" cy="132.20" r="2.5" fill="url(#s190)"/><circle cx="84.70" cy="80.10" r="2.5" fill="url(#s58)"/><circle cx="42.70" cy="80.80" r="2.5" fill="url(#s1)"/><circle cx="305.70" cy="81.60" r="2.5" fill="url(#s346)"/><circle cx="155.50" cy="130.00" r="2.5" fill="url(#s151)"/><circle cx="181.50" cy="130.00" r="2.5" fill="url(#s184)"/><circle cx="293.90" cy="82.10" r="2.5" fill="url(#s331)"/><circle cx="270.40" cy="82.40" r="2.5" fill="url(#s301)"/><circle cx="54.80" cy="83.70" r="2.5" fill="url(#s19)"/><circle cx="62.80" cy="84.00" r="2.5" fill="url(#s28)"/><circle cx="138.70" cy="127.80" r="2.5" fill="url(#s127)"/><circle cx="212.80" cy="127.80" r="2.5" fill="url(#s226)"/><circle cx="185.10" cy="127.80" r="2.5" fill="url(#s190)"/><circle cx="309.00" cy="84.50" r="2.5" fill="url(#s352)"/><circle cx="175.20" cy="127.10" r="2.5" fill="url(#s175)"/><circle cx="50.40" cy="85.20" r="2.5" fill="url(#s13)"/><circle cx="166.40" cy="126.40" r="2.5" fill="url(#s163)"/><circle cx="304.00" cy="85.70" r="2.5" fill="url(#s346)"/><circle cx="146.70" cy="125.70" r="2.5" fill="url(#s139)"/><circle cx="156.90" cy="125.70" r="2.5" fill="url(#s151)"/><circle cx="162.80" cy="124.90" r="2.5" fill="url(#s160)"/><circle cx="188.80" cy="124.90" r="2.5" fill="url(#s193)"/><circle cx="212.80" cy="124.90" r="2.5" fill="url(#s226)"/><circle cx="267.60" cy="87.30" r="2.5" fill="url(#s298)"/><circle cx="295.80" cy="87.30" r="2.5" fill="url(#s334)"/><circle cx="62.10" cy="87.70" r="2.5" fill="url(#s28)"/><circle cx="198.20" cy="124.20" r="2.5" fill="url(#s205)"/><circle cx="181.50" cy="124.20" r="2.5" fill="url(#s184)"/><circle cx="218.00" cy="123.50" r="2.5" fill="url(#s232)"/><circle cx="71.60" cy="89.90" r="2.5" fill="url(#s40)"/><circle cx="171.50" cy="122.00" r="2.5" fill="url(#s172)"/><circle cx="224.50" cy="122.00" r="2.5" fill="url(#s241)"/><circle cx="303.20" cy="90.30" r="2.5" fill="url(#s343)"/><circle cx="310.90" cy="90.30" r="2.5" fill="url(#s355)"/><circle cx="54.10" cy="90.60" r="2.5" fill="url(#s16)"/><circle cx="205.50" cy="121.30" r="2.5" fill="url(#s217)"/><circle cx="188.80" cy="121.30" r="2.5" fill="url(#s193)"/><circle cx="272.80" cy="90.90" r="2.5" fill="url(#s304)"/><circle cx="288.40" cy="90.90" r="2.5" fill="url(#s325)"/><circle cx="290.90" cy="91.40" r="2.5" fill="url(#s328)"/><circle cx="211.40" cy="120.50" r="2.5" fill="url(#s223)"/><circle cx="89.10" cy="92.00" r="2.5" fill="url(#s64)"/><circle cx="193.90" cy="119.80" r="2.5" fill="url(#s199)"/><circle cx="148.90" cy="118.40" r="2.5" fill="url(#s142)"/><circle cx="52.60" cy="94.20" r="2.5" fill="url(#s16)"/><circle cx="60.60" cy="94.20" r="2.5" fill="url(#s25)"/><circle cx="261.99" cy="94.36" r="2.5" fill="url(#s289)"/><circle cx="47.79" cy="94.47" r="2.5" fill="url(#s10)"/><circle cx="129.90" cy="117.60" r="2.5" fill="url(#s118)"/><circle cx="164.20" cy="117.60" r="2.5" fill="url(#s160)"/><circle cx="176.60" cy="117.60" r="2.5" fill="url(#s178)"/><circle cx="282.45" cy="94.73" r="2.5" fill="url(#s316)"/><circle cx="46.45" cy="94.97" r="2.5" fill="url(#s7)"/><circle cx="84.70" cy="95.00" r="2.5" fill="url(#s58)"/><circle cx="254.31" cy="95.20" r="2.5" fill="url(#s280)"/><circle cx="196.10" cy="116.90" r="2.5" fill="url(#s202)"/><circle cx="209.20" cy="116.90" r="2.5" fill="url(#s220)"/><circle cx="231.80" cy="116.90" r="2.5" fill="url(#s250)"/><circle cx="272.80" cy="95.20" r="2.5" fill="url(#s304)"/><circle cx="116.10" cy="116.20" r="2.5" fill="url(#s100)"/><circle cx="145.30" cy="116.20" r="2.5" fill="url(#s136)"/><circle cx="279.40" cy="95.90" r="2.5" fill="url(#s313)"/><circle cx="297.50" cy="95.90" r="2.5" fill="url(#s337)"/><circle cx="80.82" cy="96.04" r="2.5" fill="url(#s52)"/><circle cx="207.76" cy="116.04" r="2.5" fill="url(#s217)"/><circle cx="133.41" cy="115.94" r="2.5" fill="url(#s121)"/><circle cx="62.73" cy="96.18" r="2.5" fill="url(#s28)"/><circle cx="74.26" cy="96.24" r="2.5" fill="url(#s46)"/><circle cx="159.41" cy="115.85" r="2.5" fill="url(#s154)"/><circle cx="274.64" cy="96.26" r="2.5" fill="url(#s307)"/><circle cx="128.63" cy="115.81" r="2.5" fill="url(#s115)"/><circle cx="67.20" cy="96.40" r="2.5" fill="url(#s34)"/><circle cx="154.09" cy="115.67" r="2.5" fill="url(#s148)"/><circle cx="48.28" cy="96.45" r="2.5" fill="url(#s10)"/><circle cx="127.00" cy="115.40" r="2.5" fill="url(#s112)"/><circle cx="172.30" cy="115.40" r="2.5" fill="url(#s172)"/><circle cx="225.30" cy="115.40" r="2.5" fill="url(#s241)"/><circle cx="139.79" cy="115.38" r="2.5" fill="url(#s130)"/><circle cx="204.50" cy="115.30" r="2.5" fill="url(#s214)"/><circle cx="123.16" cy="115.27" r="2.5" fill="url(#s109)"/><circle cx="190.70" cy="115.09" r="2.5" fill="url(#s196)"/><circle cx="78.23" cy="97.06" r="2.5" fill="url(#s49)"/><circle cx="228.97" cy="115.03" r="2.5" fill="url(#s247)"/><circle cx="140.88" cy="115.01" r="2.5" fill="url(#s130)"/><circle cx="50.46" cy="97.11" r="2.5" fill="url(#s13)"/><circle cx="263.00" cy="97.20" r="2.5" fill="url(#s292)"/><circle cx="233.04" cy="114.81" r="2.5" fill="url(#s253)"/><circle cx="94.08" cy="97.39" r="2.5" fill="url(#s70)"/><circle cx="224.04" cy="114.68" r="2.5" fill="url(#s241)"/><circle cx="313.10" cy="97.50" r="2.5" fill="url(#s355)"/><circle cx="150.06" cy="114.51" r="2.5" fill="url(#s142)"/><circle cx="95.05" cy="97.66" r="2.5" fill="url(#s70)"/><circle cx="170.94" cy="114.41" r="2.5" fill="url(#s172)"/><circle cx="199.21" cy="114.28" r="2.5" fill="url(#s208)"/><circle cx="63.25" cy="97.88" r="2.5" fill="url(#s28)"/><circle cx="72.30" cy="97.90" r="2.5" fill="url(#s40)"/><circle cx="86.20" cy="97.90" r="2.5" fill="url(#s58)"/><circle cx="255.20" cy="97.90" r="2.5" fill="url(#s280)"/><circle cx="245.08" cy="97.96" r="2.5" fill="url(#s268)"/><circle cx="60.00" cy="97.99" r="2.5" fill="url(#s25)"/><circle cx="255.60" cy="98.00" r="2.5" fill="url(#s280)"/><circle cx="286.80" cy="98.00" r="2.5" fill="url(#s322)"/><circle cx="203.24" cy="114.04" r="2.5" fill="url(#s211)"/><circle cx="239.90" cy="114.00" r="2.5" fill="url(#s262)"/><circle cx="184.40" cy="114.00" r="2.5" fill="url(#s187)"/><circle cx="188.80" cy="114.00" r="2.5" fill="url(#s193)"/><circle cx="191.18" cy="113.93" r="2.5" fill="url(#s196)"/><circle cx="57.88" cy="98.38" r="2.5" fill="url(#s22)"/><circle cx="303.20" cy="98.50" r="2.5" fill="url(#s343)"/><circle cx="95.70" cy="98.60" r="2.5" fill="url(#s73)"/><circle cx="116.89" cy="113.48" r="2.5" fill="url(#s97)"/><circle cx="264.97" cy="98.70" r="2.5" fill="url(#s292)"/><circle cx="265.50" cy="98.80" r="2.5" fill="url(#s295)"/><circle cx="154.70" cy="113.20" r="2.5" fill="url(#s148)"/><circle cx="212.80" cy="113.20" r="2.5" fill="url(#s226)"/><circle cx="120.02" cy="113.16" r="2.5" fill="url(#s106)"/><circle cx="135.58" cy="113.00" r="2.5" fill="url(#s124)"/><circle cx="91.01" cy="99.11" r="2.5" fill="url(#s67)"/><circle cx="69.35" cy="99.20" r="2.5" fill="url(#s40)"/><circle cx="301.13" cy="99.35" r="2.5" fill="url(#s340)"/><circle cx="146.27" cy="112.72" r="2.5" fill="url(#s139)"/><circle cx="175.24" cy="112.72" r="2.5" fill="url(#s178)"/><circle cx="68.89" cy="99.48" r="2.5" fill="url(#s34)"/><circle cx="151.57" cy="112.57" r="2.5" fill="url(#s145)"/><circle cx="217.64" cy="112.56" r="2.5" fill="url(#s229)"/><circle cx="179.91" cy="112.50" r="2.5" fill="url(#s184)"/><circle cx="119.00" cy="112.50" r="2.5" fill="url(#s103)"/><circle cx="229.60" cy="112.50" r="2.5" fill="url(#s247)"/><circle cx="310.77" cy="99.73" r="2.5" fill="url(#s352)"/><circle cx="183.12" cy="112.34" r="2.5" fill="url(#s187)"/><circle cx="100.80" cy="99.80" r="2.5" fill="url(#s79)"/><circle cx="186.32" cy="112.17" r="2.5" fill="url(#s190)"/><circle cx="81.80" cy="100.00" r="2.5" fill="url(#s55)"/><circle cx="149.46" cy="112.04" r="2.5" fill="url(#s142)"/><circle cx="65.66" cy="100.13" r="2.5" fill="url(#s31)"/><circle cx="298.36" cy="100.23" r="2.5" fill="url(#s337)"/><circle cx="55.81" cy="100.23" r="2.5" fill="url(#s19)"/><circle cx="51.38" cy="100.28" r="2.5" fill="url(#s13)"/><circle cx="151.10" cy="111.80" r="2.5" fill="url(#s145)"/><circle cx="178.41" cy="111.72" r="2.5" fill="url(#s181)"/><circle cx="90.41" cy="100.46" r="2.5" fill="url(#s64)"/><circle cx="200.22" cy="111.61" r="2.5" fill="url(#s208)"/><circle cx="252.08" cy="100.63" r="2.5" fill="url(#s277)"/><circle cx="78.27" cy="100.65" r="2.5" fill="url(#s49)"/><circle cx="52.63" cy="100.67" r="2.5" fill="url(#s16)"/><circle cx="127.42" cy="111.37" r="2.5" fill="url(#s115)"/><circle cx="103.70" cy="100.80" r="2.5" fill="url(#s82)"/><circle cx="77.40" cy="100.80" r="2.5" fill="url(#s49)"/><circle cx="102.20" cy="100.80" r="2.5" fill="url(#s79)"/><circle cx="226.15" cy="111.28" r="2.5" fill="url(#s244)"/><circle cx="59.05" cy="100.91" r="2.5" fill="url(#s22)"/><circle cx="92.14" cy="101.02" r="2.5" fill="url(#s67)"/><circle cx="290.11" cy="101.13" r="2.5" fill="url(#s328)"/><circle cx="59.78" cy="101.29" r="2.5" fill="url(#s25)"/><circle cx="247.40" cy="101.30" r="2.5" fill="url(#s271)"/><circle cx="84.88" cy="101.33" r="2.5" fill="url(#s58)"/><circle cx="288.71" cy="101.44" r="2.5" fill="url(#s325)"/><circle cx="68.23" cy="101.44" r="2.5" fill="url(#s34)"/><circle cx="145.50" cy="110.60" r="2.5" fill="url(#s136)"/><circle cx="247.20" cy="101.60" r="2.5" fill="url(#s271)"/><circle cx="66.18" cy="101.62" r="2.5" fill="url(#s31)"/><circle cx="257.49" cy="101.84" r="2.5" fill="url(#s283)"/><circle cx="55.53" cy="101.88" r="2.5" fill="url(#s19)"/><circle cx="44.55" cy="101.91" r="2.5" fill="url(#s4)"/><circle cx="79.62" cy="101.99" r="2.5" fill="url(#s52)"/><circle cx="180.20" cy="110.02" r="2.5" fill="url(#s184)"/><circle cx="193.59" cy="110.02" r="2.5" fill="url(#s199)"/><circle cx="211.78" cy="109.97" r="2.5" fill="url(#s223)"/><circle cx="160.76" cy="109.93" r="2.5" fill="url(#s157)"/><circle cx="259.91" cy="102.19" r="2.5" fill="url(#s286)"/><circle cx="124.55" cy="109.89" r="2.5" fill="url(#s112)"/><circle cx="302.75" cy="102.22" r="2.5" fill="url(#s343)"/><circle cx="130.86" cy="109.80" r="2.5" fill="url(#s118)"/><circle cx="257.40" cy="102.30" r="2.5" fill="url(#s283)"/><circle cx="164.77" cy="109.76" r="2.5" fill="url(#s160)"/><circle cx="172.54" cy="109.74" r="2.5" fill="url(#s175)"/><circle cx="40.62" cy="102.41" r="2.5" fill="url(#s1)"/><circle cx="188.29" cy="109.65" r="2.5" fill="url(#s193)"/><circle cx="285.30" cy="102.49" r="2.5" fill="url(#s322)"/><circle cx="114.60" cy="109.60" r="2.5" fill="url(#s97)"/><circle cx="238.40" cy="109.60" r="2.5" fill="url(#s259)"/><circle cx="173.56" cy="109.58" r="2.5" fill="url(#s175)"/><circle cx="266.21" cy="102.56" r="2.5" fill="url(#s295)"/><circle cx="100.61" cy="102.62" r="2.5" fill="url(#s79)"/><circle cx="117.47" cy="109.46" r="2.5" fill="url(#s100)"/><circle cx="147.41" cy="109.43" r="2.5" fill="url(#s139)"/><circle cx="171.27" cy="109.30" r="2.5" fill="url(#s172)"/><circle cx="187.97" cy="109.27" r="2.5" fill="url(#s193)"/><circle cx="185.73" cy="109.21" r="2.5" fill="url(#s190)"/><circle cx="194.25" cy="109.21" r="2.5" fill="url(#s202)"/><circle cx="56.49" cy="102.91" r="2.5" fill="url(#s19)"/><circle cx="164.64" cy="109.16" r="2.5" fill="url(#s160)"/><circle cx="222.32" cy="109.10" r="2.5" fill="url(#s238)"/><circle cx="70.07" cy="103.01" r="2.5" fill="url(#s40)"/><circle cx="155.19" cy="109.00" r="2.5" fill="url(#s148)"/><circle cx="249.33" cy="103.22" r="2.5" fill="url(#s274)"/><circle cx="74.88" cy="103.24" r="2.5" fill="url(#s46)"/><circle cx="284.83" cy="103.26" r="2.5" fill="url(#s319)"/><circle cx="58.45" cy="103.26" r="2.5" fill="url(#s22)"/><circle cx="141.74" cy="108.83" r="2.5" fill="url(#s133)"/><circle cx="276.29" cy="103.27" r="2.5" fill="url(#s310)"/><circle cx="113.23" cy="108.76" r="2.5" fill="url(#s94)"/><circle cx="233.61" cy="108.73" r="2.5" fill="url(#s253)"/><circle cx="208.89" cy="108.73" r="2.5" fill="url(#s220)"/><circle cx="46.55" cy="103.38" r="2.5" fill="url(#s7)"/><circle cx="214.55" cy="108.70" r="2.5" fill="url(#s226)"/><circle cx="178.34" cy="108.68" r="2.5" fill="url(#s181)"/><circle cx="209.94" cy="108.66" r="2.5" fill="url(#s220)"/><circle cx="242.72" cy="103.49" r="2.5" fill="url(#s265)"/><circle cx="165.78" cy="108.58" r="2.5" fill="url(#s163)"/><circle cx="137.02" cy="108.54" r="2.5" fill="url(#s127)"/><circle cx="220.76" cy="108.52" r="2.5" fill="url(#s238)"/><circle cx="218.18" cy="108.50" r="2.5" fill="url(#s232)"/><circle cx="247.59" cy="103.60" r="2.5" fill="url(#s271)"/><circle cx="168.54" cy="108.49" r="2.5" fill="url(#s166)"/><circle cx="81.76" cy="103.61" r="2.5" fill="url(#s55)"/><circle cx="223.20" cy="108.49" r="2.5" fill="url(#s241)"/><circle cx="71.93" cy="103.65" r="2.5" fill="url(#s43)"/><circle cx="237.52" cy="108.44" r="2.5" fill="url(#s259)"/><circle cx="271.07" cy="103.67" r="2.5" fill="url(#s304)"/><circle cx="141.69" cy="108.42" r="2.5" fill="url(#s133)"/><circle cx="135.14" cy="108.42" r="2.5" fill="url(#s124)"/><circle cx="133.32" cy="108.41" r="2.5" fill="url(#s121)"/><circle cx="278.99" cy="103.69" r="2.5" fill="url(#s313)"/><circle cx="165.80" cy="108.39" r="2.5" fill="url(#s163)"/><circle cx="103.10" cy="103.72" r="2.5" fill="url(#s82)"/><circle cx="41.80" cy="103.72" r="2.5" fill="url(#s1)"/><circle cx="305.95" cy="103.72" r="2.5" fill="url(#s346)"/><circle cx="47.94" cy="103.74" r="2.5" fill="url(#s10)"/><circle cx="174.91" cy="108.35" r="2.5" fill="url(#s178)"/><circle cx="312.75" cy="103.76" r="2.5" fill="url(#s355)"/><circle cx="155.95" cy="108.33" r="2.5" fill="url(#s151)"/><circle cx="130.84" cy="108.33" r="2.5" fill="url(#s118)"/><circle cx="206.96" cy="108.32" r="2.5" fill="url(#s217)"/><circle cx="157.51" cy="108.31" r="2.5" fill="url(#s151)"/><circle cx="113.00" cy="108.31" r="2.5" fill="url(#s94)"/><circle cx="159.75" cy="108.30" r="2.5" fill="url(#s154)"/><circle cx="194.34" cy="108.30" r="2.5" fill="url(#s202)"/><circle cx="169.52" cy="108.29" r="2.5" fill="url(#s166)"/><circle cx="117.99" cy="108.27" r="2.5" fill="url(#s100)"/><circle cx="225.42" cy="108.27" r="2.5" fill="url(#s244)"/><circle cx="60.54" cy="103.84" r="2.5" fill="url(#s25)"/><circle cx="231.81" cy="108.26" r="2.5" fill="url(#s250)"/><circle cx="197.84" cy="108.26" r="2.5" fill="url(#s205)"/><circle cx="231.83" cy="108.26" r="2.5" fill="url(#s250)"/><circle cx="217.67" cy="108.26" r="2.5" fill="url(#s229)"/><circle cx="136.56" cy="108.25" r="2.5" fill="url(#s127)"/><circle cx="162.44" cy="108.25" r="2.5" fill="url(#s157)"/><circle cx="96.97" cy="103.88" r="2.5" fill="url(#s73)"/><circle cx="293.30" cy="103.92" r="2.5" fill="url(#s331)"/><circle cx="41.57" cy="103.96" r="2.5" fill="url(#s1)"/><circle cx="269.98" cy="103.97" r="2.5" fill="url(#s298)"/><circle cx="43.08" cy="103.97" r="2.5" fill="url(#s4)"/><circle cx="98.52" cy="103.97" r="2.5" fill="url(#s76)"/><circle cx="68.30" cy="103.99" r="2.5" fill="url(#s34)"/><circle cx="52.91" cy="103.99" r="2.5" fill="url(#s16)"/><circle cx="73.24" cy="103.99" r="2.5" fill="url(#s43)"/><circle cx="308.57" cy="104.01" r="2.5" fill="url(#s349)"/><circle cx="43.77" cy="104.02" r="2.5" fill="url(#s4)"/><circle cx="295.51" cy="104.04" r="2.5" fill="url(#s334)"/><circle cx="86.94" cy="104.05" r="2.5" fill="url(#s61)"/><linearGradient id="gZ" gradientUnits="userSpaceOnUse" x1="40.5" x2="315.4" y1="0" y2="0"><stop offset="0.0000" stop-color="#0c0505"/><stop offset="0.0111" stop-color="#0d0505"/><stop offset="0.0222" stop-color="#0e0505"/><stop offset="0.0333" stop-color="#0f0505"/><stop offset="0.0444" stop-color="#110505"/><stop offset="0.0556" stop-color="#130404"/><stop offset="0.0667" stop-color="#150404"/><stop offset="0.0778" stop-color="#170404"/><stop offset="0.0889" stop-color="#180404"/><stop offset="0.1000" stop-color="#1b0303"/><stop offset="0.1111" stop-color="#1d0303"/><stop offset="0.1222" stop-color="#200303"/><stop offset="0.1333" stop-color="#220202"/><stop offset="0.1444" stop-color="#250202"/><stop offset="0.1556" stop-color="#280202"/><stop offset="0.1667" stop-color="#2c0101"/><stop offset="0.1778" stop-color="#2e0101"/><stop offset="0.1889" stop-color="#320101"/><stop offset="0.2000" stop-color="#350000"/><stop offset="0.2111" stop-color="#390000"/><stop offset="0.2222" stop-color="#3c0000"/><stop offset="0.2333" stop-color="#520000"/><stop offset="0.2444" stop-color="#540000"/><stop offset="0.2556" stop-color="#560000"/><stop offset="0.2667" stop-color="#590000"/><stop offset="0.2778" stop-color="#5c0000"/><stop offset="0.2889" stop-color="#5e0000"/><stop offset="0.3000" stop-color="#610000"/><stop offset="0.3111" stop-color="#640000"/><stop offset="0.3222" stop-color="#670000"/><stop offset="0.3333" stop-color="#6a0101"/><stop offset="0.3444" stop-color="#6d0101"/><stop offset="0.3556" stop-color="#710101"/><stop offset="0.3667" stop-color="#730101"/><stop offset="0.3778" stop-color="#770101"/><stop offset="0.3889" stop-color="#7b0202"/><stop offset="0.4000" stop-color="#7e0202"/><stop offset="0.4111" stop-color="#810202"/><stop offset="0.4222" stop-color="#850202"/><stop offset="0.4333" stop-color="#890303"/><stop offset="0.4444" stop-color="#8c0303"/><stop offset="0.4556" stop-color="#900303"/><stop offset="0.4667" stop-color="#940303"/><stop offset="0.4778" stop-color="#970404"/><stop offset="0.4889" stop-color="#9c0404"/><stop offset="0.5000" stop-color="#a00404"/><stop offset="0.5111" stop-color="#a30404"/><stop offset="0.5222" stop-color="#a70505"/><stop offset="0.5333" stop-color="#ab0505"/><stop offset="0.5444" stop-color="#af0505"/><stop offset="0.5556" stop-color="#b30505"/><stop offset="0.5667" stop-color="#b70606"/><stop offset="0.5778" stop-color="#bb0606"/><stop offset="0.5889" stop-color="#bf0606"/><stop offset="0.6000" stop-color="#c30606"/><stop offset="0.6111" stop-color="#c70707"/><stop offset="0.6222" stop-color="#cc0707"/><stop offset="0.6333" stop-color="#cf0707"/><stop offset="0.6444" stop-color="#d40808"/><stop offset="0.6556" stop-color="#d80808"/><stop offset="0.6667" stop-color="#dc0808"/><stop offset="0.6778" stop-color="#e10808"/><stop offset="0.6889" stop-color="#e50909"/><stop offset="0.7000" stop-color="#e90909"/><stop offset="0.7025" stop-color="#ea0909"/><stop offset="0.7031" stop-color="#0d0909"/><stop offset="0.7111" stop-color="#0d0909"/><stop offset="0.7222" stop-color="#0d0909"/><stop offset="0.7333" stop-color="#0d0909"/><stop offset="0.7442" stop-color="#0d0909"/><stop offset="0.7444" stop-color="#1b0707"/><stop offset="0.7447" stop-color="#1b0707"/><stop offset="0.7556" stop-color="#1e0707"/><stop offset="0.7667" stop-color="#210606"/><stop offset="0.7778" stop-color="#230606"/><stop offset="0.7889" stop-color="#260606"/><stop offset="0.8000" stop-color="#290505"/><stop offset="0.8111" stop-color="#2c0505"/><stop offset="0.8222" stop-color="#2e0505"/><stop offset="0.8333" stop-color="#310404"/><stop offset="0.8444" stop-color="#340404"/><stop offset="0.8556" stop-color="#370404"/><stop offset="0.8667" stop-color="#390303"/><stop offset="0.8778" stop-color="#3d0303"/><stop offset="0.8889" stop-color="#400202"/><stop offset="0.9000" stop-color="#430202"/><stop offset="0.9111" stop-color="#450202"/><stop offset="0.9222" stop-color="#480101"/><stop offset="0.9333" stop-color="#4b0101"/><stop offset="0.9444" stop-color="#4e0101"/><stop offset="0.9556" stop-color="#500000"/><stop offset="0.9667" stop-color="#530000"/><stop offset="0.9778" stop-color="#560000"/><stop offset="0.9889" stop-color="#590000"/><stop offset="1.0000" stop-color="#5c0000"/></linearGradient><rect x="40.5" y="103.25" width="274.90" height="4.6" fill="url(#gZ)"/><circle cx="41.50" cy="105.35" r="0.95" fill="#fff" fill-opacity="0.85"/><circle cx="46.30" cy="105.35" r="0.95" fill="#fff" fill-opacity="0.85"/><circle cx="51.10" cy="105.35" r="0.95" fill="#fff" fill-opacity="0.85"/><circle cx="55.90" cy="105.35" r="0.95" fill="#fff" fill-opacity="0.85"/><circle cx="60.70" cy="105.35" r="0.95" fill="#fff" fill-opacity="0.85"/><circle cx="65.50" cy="105.35" r="0.95" fill="#fff" fill-opacity="0.85"/><circle cx="70.30" cy="105.35" r="0.95" fill="#fff" fill-opacity="0.85"/><circle cx="75.10" cy="105.35" r="0.95" fill="#fff" fill-opacity="0.85"/><circle cx="79.90" cy="105.35" r="0.95" fill="#fff" fill-opacity="0.85"/><circle cx="84.70" cy="105.35" r="0.95" fill="#fff" fill-opacity="0.85"/><circle cx="89.50" cy="105.35" r="0.95" fill="#fff" fill-opacity="0.85"/><circle cx="94.30" cy="105.35" r="0.95" fill="#fff" fill-opacity="0.85"/><circle cx="99.10" cy="105.35" r="0.95" fill="#fff" fill-opacity="0.85"/><circle cx="103.90" cy="105.35" r="0.95" fill="#fff" fill-opacity="0.85"/><circle cx="108.70" cy="105.35" r="0.95" fill="#fff" fill-opacity="0.85"/><circle cx="113.50" cy="105.35" r="0.95" fill="#fff" fill-opacity="0.85"/><circle cx="118.30" cy="105.35" r="0.95" fill="#fff" fill-opacity="0.85"/><circle cx="123.10" cy="105.35" r="0.95" fill="#fff" fill-opacity="0.85"/><circle cx="127.90" cy="105.35" r="0.95" fill="#fff" fill-opacity="0.85"/><circle cx="132.70" cy="105.35" r="0.95" fill="#fff" fill-opacity="0.85"/><circle cx="137.50" cy="105.35" r="0.95" fill="#fff" fill-opacity="0.85"/><circle cx="142.30" cy="105.35" r="0.95" fill="#fff" fill-opacity="0.85"/><circle cx="147.10" cy="105.35" r="0.95" fill="#fff" fill-opacity="0.85"/><circle cx="151.90" cy="105.35" r="0.95" fill="#fff" fill-opacity="0.85"/><circle cx="156.70" cy="105.35" r="0.95" fill="#fff" fill-opacity="0.85"/><circle cx="161.50" cy="105.35" r="0.95" fill="#fff" fill-opacity="0.85"/><circle cx="166.30" cy="105.35" r="0.95" fill="#fff" fill-opacity="0.85"/><circle cx="171.10" cy="105.35" r="0.95" fill="#fff" fill-opacity="0.85"/><circle cx="175.90" cy="105.35" r="0.95" fill="#fff" fill-opacity="0.85"/><circle cx="180.70" cy="105.35" r="0.95" fill="#fff" fill-opacity="0.85"/><circle cx="185.50" cy="105.35" r="0.95" fill="#fff" fill-opacity="0.85"/><circle cx="190.30" cy="105.35" r="0.95" fill="#fff" fill-opacity="0.85"/><circle cx="195.10" cy="105.35" r="0.95" fill="#fff" fill-opacity="0.85"/><circle cx="199.90" cy="105.35" r="0.95" fill="#fff" fill-opacity="0.85"/><circle cx="204.70" cy="105.35" r="0.95" fill="#fff" fill-opacity="0.85"/><circle cx="209.50" cy="105.35" r="0.95" fill="#fff" fill-opacity="0.85"/><circle cx="214.30" cy="105.35" r="0.95" fill="#fff" fill-opacity="0.85"/><circle cx="219.10" cy="105.35" r="0.95" fill="#fff" fill-opacity="0.85"/><circle cx="223.90" cy="105.35" r="0.95" fill="#fff" fill-opacity="0.85"/><circle cx="228.70" cy="105.35" r="0.95" fill="#fff" fill-opacity="0.85"/><circle cx="233.50" cy="105.35" r="0.95" fill="#fff" fill-opacity="0.85"/><circle cx="238.30" cy="105.35" r="0.95" fill="#fff" fill-opacity="0.85"/><circle cx="243.10" cy="105.35" r="0.95" fill="#fff" fill-opacity="0.85"/><circle cx="247.90" cy="105.35" r="0.95" fill="#fff" fill-opacity="0.85"/><circle cx="252.70" cy="105.35" r="0.95" fill="#fff" fill-opacity="0.85"/><circle cx="257.50" cy="105.35" r="0.95" fill="#fff" fill-opacity="0.85"/><circle cx="262.30" cy="105.35" r="0.95" fill="#fff" fill-opacity="0.85"/><circle cx="267.10" cy="105.35" r="0.95" fill="#fff" fill-opacity="0.85"/><circle cx="271.90" cy="105.35" r="0.95" fill="#fff" fill-opacity="0.85"/><circle cx="276.70" cy="105.35" r="0.95" fill="#fff" fill-opacity="0.85"/><circle cx="281.50" cy="105.35" r="0.95" fill="#fff" fill-opacity="0.85"/><circle cx="286.30" cy="105.35" r="0.95" fill="#fff" fill-opacity="0.85"/><circle cx="291.10" cy="105.35" r="0.95" fill="#fff" fill-opacity="0.85"/><circle cx="295.90" cy="105.35" r="0.95" fill="#fff" fill-opacity="0.85"/><circle cx="300.70" cy="105.35" r="0.95" fill="#fff" fill-opacity="0.85"/><circle cx="305.50" cy="105.35" r="0.95" fill="#fff" fill-opacity="0.85"/><circle cx="310.30" cy="105.35" r="0.95" fill="#fff" fill-opacity="0.85"/><line x1="40.00" y1="3.80" x2="315.40" y2="3.80" stroke="#707070" stroke-width="1.3" /><line x1="315.40" y1="3.80" x2="315.40" y2="208.80" stroke="#111" stroke-width="1.3" /><line x1="40.50" y1="3.80" x2="40.50" y2="212.30" stroke="#222" stroke-width="1.3" /><line x1="36.50" y1="208.30" x2="315.40" y2="208.30" stroke="#222" stroke-width="1.5" /><line x1="36.50" y1="208.30" x2="40.50" y2="208.30" stroke="#222" stroke-width="1" /><text x="34.20" y="211.80" font-size="10.5" text-anchor="end" font-family="Liberation Serif" fill="#000" stroke="#000" stroke-width="0.12" >-700</text><line x1="38.30" y1="201.00" x2="40.50" y2="201.00" stroke="#222" stroke-width="1" /><line x1="36.50" y1="193.69" x2="40.50" y2="193.69" stroke="#222" stroke-width="1" /><text x="34.20" y="197.19" font-size="10.5" text-anchor="end" font-family="Liberation Serif" fill="#000" stroke="#000" stroke-width="0.12" >-600</text><line x1="38.30" y1="186.39" x2="40.50" y2="186.39" stroke="#222" stroke-width="1" /><line x1="36.50" y1="179.09" x2="40.50" y2="179.09" stroke="#222" stroke-width="1" /><text x="34.20" y="182.59" font-size="10.5" text-anchor="end" font-family="Liberation Serif" fill="#000" stroke="#000" stroke-width="0.12" >-500</text><line x1="38.30" y1="171.78" x2="40.50" y2="171.78" stroke="#222" stroke-width="1" /><line x1="36.50" y1="164.48" x2="40.50" y2="164.48" stroke="#222" stroke-width="1" /><text x="34.20" y="167.98" font-size="10.5" text-anchor="end" font-family="Liberation Serif" fill="#000" stroke="#000" stroke-width="0.12" >-400</text><line x1="38.30" y1="157.18" x2="40.50" y2="157.18" stroke="#222" stroke-width="1" /><line x1="36.50" y1="149.87" x2="40.50" y2="149.87" stroke="#222" stroke-width="1" /><text x="34.20" y="153.37" font-size="10.5" text-anchor="end" font-family="Liberation Serif" fill="#000" stroke="#000" stroke-width="0.12" >-300</text><line x1="38.30" y1="142.57" x2="40.50" y2="142.57" stroke="#222" stroke-width="1" /><line x1="36.50" y1="135.26" x2="40.50" y2="135.26" stroke="#222" stroke-width="1" /><text x="34.20" y="138.76" font-size="10.5" text-anchor="end" font-family="Liberation Serif" fill="#000" stroke="#000" stroke-width="0.12" >-200</text><line x1="38.30" y1="127.96" x2="40.50" y2="127.96" stroke="#222" stroke-width="1" /><line x1="36.50" y1="120.66" x2="40.50" y2="120.66" stroke="#222" stroke-width="1" /><text x="34.20" y="124.16" font-size="10.5" text-anchor="end" font-family="Liberation Serif" fill="#000" stroke="#000" stroke-width="0.12" >-100</text><line x1="38.30" y1="113.35" x2="40.50" y2="113.35" stroke="#222" stroke-width="1" /><line x1="36.50" y1="106.05" x2="40.50" y2="106.05" stroke="#222" stroke-width="1" /><text x="34.20" y="109.55" font-size="10.5" text-anchor="end" font-family="Liberation Serif" fill="#000" stroke="#000" stroke-width="0.12" >0</text><line x1="38.30" y1="98.75" x2="40.50" y2="98.75" stroke="#222" stroke-width="1" /><line x1="36.50" y1="91.44" x2="40.50" y2="91.44" stroke="#222" stroke-width="1" /><text x="34.20" y="94.94" font-size="10.5" text-anchor="end" font-family="Liberation Serif" fill="#000" stroke="#000" stroke-width="0.12" >100</text><line x1="38.30" y1="84.14" x2="40.50" y2="84.14" stroke="#222" stroke-width="1" /><line x1="36.50" y1="76.84" x2="40.50" y2="76.84" stroke="#222" stroke-width="1" /><text x="34.20" y="80.34" font-size="10.5" text-anchor="end" font-family="Liberation Serif" fill="#000" stroke="#000" stroke-width="0.12" >200</text><line x1="38.30" y1="69.53" x2="40.50" y2="69.53" stroke="#222" stroke-width="1" /><line x1="36.50" y1="62.23" x2="40.50" y2="62.23" stroke="#222" stroke-width="1" /><text x="34.20" y="65.73" font-size="10.5" text-anchor="end" font-family="Liberation Serif" fill="#000" stroke="#000" stroke-width="0.12" >300</text><line x1="38.30" y1="54.92" x2="40.50" y2="54.92" stroke="#222" stroke-width="1" /><line x1="36.50" y1="47.62" x2="40.50" y2="47.62" stroke="#222" stroke-width="1" /><text x="34.20" y="51.12" font-size="10.5" text-anchor="end" font-family="Liberation Serif" fill="#000" stroke="#000" stroke-width="0.12" >400</text><line x1="38.30" y1="40.32" x2="40.50" y2="40.32" stroke="#222" stroke-width="1" /><line x1="36.50" y1="33.01" x2="40.50" y2="33.01" stroke="#222" stroke-width="1" /><text x="34.20" y="36.51" font-size="10.5" text-anchor="end" font-family="Liberation Serif" fill="#000" stroke="#000" stroke-width="0.12" >500</text><line x1="38.30" y1="25.71" x2="40.50" y2="25.71" stroke="#222" stroke-width="1" /><line x1="36.50" y1="18.41" x2="40.50" y2="18.41" stroke="#222" stroke-width="1" /><text x="34.20" y="21.91" font-size="10.5" text-anchor="end" font-family="Liberation Serif" fill="#000" stroke="#000" stroke-width="0.12" >600</text><line x1="38.30" y1="11.10" x2="40.50" y2="11.10" stroke="#222" stroke-width="1" /><line x1="36.50" y1="3.80" x2="40.50" y2="3.80" stroke="#222" stroke-width="1" /><text x="34.20" y="7.30" font-size="10.5" text-anchor="end" font-family="Liberation Serif" fill="#000" stroke="#000" stroke-width="0.12" >700</text><line x1="40.50" y1="208.30" x2="40.50" y2="212.30" stroke="#222" stroke-width="1" /><text x="40.50" y="223.30" font-size="10" text-anchor="middle" font-family="Liberation Serif" fill="#000" stroke="#000" stroke-width="0.12" >0</text><line x1="51.95" y1="208.30" x2="51.95" y2="210.50" stroke="#222" stroke-width="1" /><line x1="63.41" y1="208.30" x2="63.41" y2="212.30" stroke="#222" stroke-width="1" /><text x="63.41" y="223.30" font-size="10" text-anchor="middle" font-family="Liberation Serif" fill="#000" stroke="#000" stroke-width="0.12" >30</text><line x1="74.86" y1="208.30" x2="74.86" y2="210.50" stroke="#222" stroke-width="1" /><line x1="86.32" y1="208.30" x2="86.32" y2="212.30" stroke="#222" stroke-width="1" /><text x="86.32" y="223.30" font-size="10" text-anchor="middle" font-family="Liberation Serif" fill="#000" stroke="#000" stroke-width="0.12" >60</text><line x1="97.77" y1="208.30" x2="97.77" y2="210.50" stroke="#222" stroke-width="1" /><line x1="109.22" y1="208.30" x2="109.22" y2="212.30" stroke="#222" stroke-width="1" /><text x="109.22" y="223.30" font-size="10" text-anchor="middle" font-family="Liberation Serif" fill="#000" stroke="#000" stroke-width="0.12" >90</text><line x1="120.68" y1="208.30" x2="120.68" y2="210.50" stroke="#222" stroke-width="1" /><line x1="132.13" y1="208.30" x2="132.13" y2="212.30" stroke="#222" stroke-width="1" /><text x="132.13" y="223.30" font-size="10" text-anchor="middle" font-family="Liberation Serif" fill="#000" stroke="#000" stroke-width="0.12" >120</text><line x1="143.59" y1="208.30" x2="143.59" y2="210.50" stroke="#222" stroke-width="1" /><line x1="155.04" y1="208.30" x2="155.04" y2="212.30" stroke="#222" stroke-width="1" /><text x="155.04" y="223.30" font-size="10" text-anchor="middle" font-family="Liberation Serif" fill="#000" stroke="#000" stroke-width="0.12" >150</text><line x1="166.50" y1="208.30" x2="166.50" y2="210.50" stroke="#222" stroke-width="1" /><line x1="177.95" y1="208.30" x2="177.95" y2="212.30" stroke="#222" stroke-width="1" /><text x="177.95" y="223.30" font-size="10" text-anchor="middle" font-family="Liberation Serif" fill="#000" stroke="#000" stroke-width="0.12" >180</text><line x1="189.40" y1="208.30" x2="189.40" y2="210.50" stroke="#222" stroke-width="1" /><line x1="200.86" y1="208.30" x2="200.86" y2="212.30" stroke="#222" stroke-width="1" /><text x="200.86" y="223.30" font-size="10" text-anchor="middle" font-family="Liberation Serif" fill="#000" stroke="#000" stroke-width="0.12" >210</text><line x1="212.31" y1="208.30" x2="212.31" y2="210.50" stroke="#222" stroke-width="1" /><line x1="223.77" y1="208.30" x2="223.77" y2="212.30" stroke="#222" stroke-width="1" /><text x="223.77" y="223.30" font-size="10" text-anchor="middle" font-family="Liberation Serif" fill="#000" stroke="#000" stroke-width="0.12" >240</text><line x1="235.22" y1="208.30" x2="235.22" y2="210.50" stroke="#222" stroke-width="1" /><line x1="246.68" y1="208.30" x2="246.68" y2="212.30" stroke="#222" stroke-width="1" /><text x="246.68" y="223.30" font-size="10" text-anchor="middle" font-family="Liberation Serif" fill="#000" stroke="#000" stroke-width="0.12" >270</text><line x1="258.13" y1="208.30" x2="258.13" y2="210.50" stroke="#222" stroke-width="1" /><line x1="269.58" y1="208.30" x2="269.58" y2="212.30" stroke="#222" stroke-width="1" /><text x="269.58" y="223.30" font-size="10" text-anchor="middle" font-family="Liberation Serif" fill="#000" stroke="#000" stroke-width="0.12" >300</text><line x1="281.04" y1="208.30" x2="281.04" y2="210.50" stroke="#222" stroke-width="1" /><line x1="292.49" y1="208.30" x2="292.49" y2="212.30" stroke="#222" stroke-width="1" /><text x="292.49" y="223.30" font-size="10" text-anchor="middle" font-family="Liberation Serif" fill="#000" stroke="#000" stroke-width="0.12" >330</text><line x1="303.95" y1="208.30" x2="303.95" y2="210.50" stroke="#222" stroke-width="1" /><line x1="315.40" y1="208.30" x2="315.40" y2="212.30" stroke="#222" stroke-width="1" /><text x="315.40" y="223.30" font-size="10" text-anchor="middle" font-family="Liberation Serif" fill="#000" stroke="#000" stroke-width="0.12" >360</text><text x="177.90" y="236.40" font-size="11" text-anchor="middle" font-family="Liberation Serif" fill="#000" stroke="#000" stroke-width="0.12" >Phase (deg)</text><text transform="translate(8.0,112.5) rotate(-90)" font-size="10.6" text-anchor="middle" font-family="Liberation Serif" fill="#000" stroke="#000" stroke-width="0.12">Amplitude (pC)</text><text transform="translate(173.00,257.70) scale(1.03,0.9)" x="0" y="0" font-size="14.5" text-anchor="middle" font-family="Liberation Sans" fill="#111" stroke="#111" stroke-width="0.1">(a)</text><line x1="402.50" y1="65.75" x2="402.50" y2="81.76" stroke="#111" stroke-width="1"/><rect x="388.50" y="73.75" width="28" height="139.55" fill="url(#gB)" stroke="#000040" stroke-width="0.6"/><line x1="402.50" y1="65.75" x2="402.50" y2="81.76" stroke="#111" stroke-width="1"/><line x1="399.20" y1="65.75" x2="405.80" y2="65.75" stroke="#111" stroke-width="1"/><line x1="399.20" y1="81.76" x2="405.80" y2="81.76" stroke="#111" stroke-width="1"/><text x="402.30" y="63.50" font-size="12.2" text-anchor="middle" font-family="Liberation Serif" fill="#000" stroke="#000" stroke-width="0.12" >80,16</text><line x1="472.50" y1="146.31" x2="472.50" y2="157.45" stroke="#111" stroke-width="1"/><rect x="458.50" y="151.88" width="28" height="61.42" fill="url(#gB)" stroke="#000040" stroke-width="0.6"/><line x1="472.50" y1="146.31" x2="472.50" y2="157.45" stroke="#111" stroke-width="1"/><line x1="469.20" y1="146.31" x2="475.80" y2="146.31" stroke="#111" stroke-width="1"/><line x1="469.20" y1="157.45" x2="475.80" y2="157.45" stroke="#111" stroke-width="1"/><text x="472.10" y="143.40" font-size="12.2" text-anchor="middle" font-family="Liberation Serif" fill="#000" stroke="#000" stroke-width="0.12" >35,28</text><line x1="500.50" y1="39.53" x2="500.50" y2="54.50" stroke="#111" stroke-width="1"/><rect x="486.50" y="47.02" width="28" height="166.28" fill="url(#gR)" stroke="#400000" stroke-width="0.6"/><line x1="500.50" y1="39.53" x2="500.50" y2="54.50" stroke="#111" stroke-width="1"/><line x1="497.20" y1="39.53" x2="503.80" y2="39.53" stroke="#111" stroke-width="1"/><line x1="497.20" y1="54.50" x2="503.80" y2="54.50" stroke="#111" stroke-width="1"/><text x="500.10" y="36.60" font-size="12.2" text-anchor="middle" font-family="Liberation Serif" fill="#000" stroke="#000" stroke-width="0.12" >95,52</text><line x1="542.50" y1="105.84" x2="542.50" y2="117.68" stroke="#111" stroke-width="1"/><rect x="528.50" y="111.76" width="28" height="101.54" fill="url(#gB)" stroke="#000040" stroke-width="0.6"/><line x1="542.50" y1="105.84" x2="542.50" y2="117.68" stroke="#111" stroke-width="1"/><line x1="539.20" y1="105.84" x2="545.80" y2="105.84" stroke="#111" stroke-width="1"/><line x1="539.20" y1="117.68" x2="545.80" y2="117.68" stroke="#111" stroke-width="1"/><text x="542.40" y="105.00" font-size="12.2" text-anchor="middle" font-family="Liberation Serif" fill="#000" stroke="#000" stroke-width="0.12" >58,33</text><line x1="570.50" y1="58.78" x2="570.50" y2="77.58" stroke="#111" stroke-width="1"/><rect x="556.50" y="68.18" width="28" height="145.12" fill="url(#gR)" stroke="#400000" stroke-width="0.6"/><line x1="570.50" y1="58.78" x2="570.50" y2="77.58" stroke="#111" stroke-width="1"/><line x1="567.20" y1="58.78" x2="573.80" y2="58.78" stroke="#111" stroke-width="1"/><line x1="567.20" y1="77.58" x2="573.80" y2="77.58" stroke="#111" stroke-width="1"/><text x="570.40" y="56.00" font-size="12.2" text-anchor="middle" font-family="Liberation Serif" fill="#000" stroke="#000" stroke-width="0.12" >83,36</text><line x1="612.50" y1="130.59" x2="612.50" y2="144.87" stroke="#111" stroke-width="1"/><rect x="598.50" y="137.73" width="28" height="75.57" fill="url(#gB)" stroke="#000040" stroke-width="0.6"/><line x1="612.50" y1="130.59" x2="612.50" y2="144.87" stroke="#111" stroke-width="1"/><line x1="609.20" y1="130.59" x2="615.80" y2="130.59" stroke="#111" stroke-width="1"/><line x1="609.20" y1="144.87" x2="615.80" y2="144.87" stroke="#111" stroke-width="1"/><text x="612.40" y="127.80" font-size="12.2" text-anchor="middle" font-family="Liberation Serif" fill="#000" stroke="#000" stroke-width="0.12" >43,41</text><line x1="640.50" y1="82.75" x2="640.50" y2="95.99" stroke="#111" stroke-width="1"/><rect x="626.50" y="89.37" width="28" height="123.93" fill="url(#gR)" stroke="#400000" stroke-width="0.6"/><line x1="640.50" y1="82.75" x2="640.50" y2="95.99" stroke="#111" stroke-width="1"/><line x1="637.20" y1="82.75" x2="643.80" y2="82.75" stroke="#111" stroke-width="1"/><line x1="637.20" y1="95.99" x2="643.80" y2="95.99" stroke="#111" stroke-width="1"/><text x="640.40" y="80.00" font-size="12.2" text-anchor="middle" font-family="Liberation Serif" fill="#000" stroke="#000" stroke-width="0.12" >71,19</text><line x1="381.00" y1="4.40" x2="661.90" y2="4.40" stroke="#555" stroke-width="1.2" /><line x1="661.40" y1="4.40" x2="661.40" y2="213.80" stroke="#222" stroke-width="1.2" /><line x1="381.50" y1="3.90" x2="381.50" y2="213.90" stroke="#444" stroke-width="1.4" /><line x1="377.50" y1="213.30" x2="661.90" y2="213.30" stroke="#444" stroke-width="1.4" /><line x1="377.50" y1="213.30" x2="381.50" y2="213.30" stroke="#333" stroke-width="1" /><text x="374.20" y="216.70" font-size="10.3" text-anchor="end" font-family="Liberation Serif" fill="#000" stroke="#000" stroke-width="0.12" >0</text><line x1="379.30" y1="204.60" x2="381.50" y2="204.60" stroke="#333" stroke-width="1" /><line x1="377.50" y1="195.89" x2="381.50" y2="195.89" stroke="#333" stroke-width="1" /><text x="374.20" y="199.29" font-size="10.3" text-anchor="end" font-family="Liberation Serif" fill="#000" stroke="#000" stroke-width="0.12" >10</text><line x1="379.30" y1="187.19" x2="381.50" y2="187.19" stroke="#333" stroke-width="1" /><line x1="377.50" y1="178.48" x2="381.50" y2="178.48" stroke="#333" stroke-width="1" /><text x="374.20" y="181.88" font-size="10.3" text-anchor="end" font-family="Liberation Serif" fill="#000" stroke="#000" stroke-width="0.12" >20</text><line x1="379.30" y1="169.78" x2="381.50" y2="169.78" stroke="#333" stroke-width="1" /><line x1="377.50" y1="161.08" x2="381.50" y2="161.08" stroke="#333" stroke-width="1" /><text x="374.20" y="164.48" font-size="10.3" text-anchor="end" font-family="Liberation Serif" fill="#000" stroke="#000" stroke-width="0.12" >30</text><line x1="379.30" y1="152.37" x2="381.50" y2="152.37" stroke="#333" stroke-width="1" /><line x1="377.50" y1="143.67" x2="381.50" y2="143.67" stroke="#333" stroke-width="1" /><text x="374.20" y="147.07" font-size="10.3" text-anchor="end" font-family="Liberation Serif" fill="#000" stroke="#000" stroke-width="0.12" >40</text><line x1="379.30" y1="134.96" x2="381.50" y2="134.96" stroke="#333" stroke-width="1" /><line x1="377.50" y1="126.26" x2="381.50" y2="126.26" stroke="#333" stroke-width="1" /><text x="374.20" y="129.66" font-size="10.3" text-anchor="end" font-family="Liberation Serif" fill="#000" stroke="#000" stroke-width="0.12" >50</text><line x1="379.30" y1="117.55" x2="381.50" y2="117.55" stroke="#333" stroke-width="1" /><line x1="377.50" y1="108.85" x2="381.50" y2="108.85" stroke="#333" stroke-width="1" /><text x="374.20" y="112.25" font-size="10.3" text-anchor="end" font-family="Liberation Serif" fill="#000" stroke="#000" stroke-width="0.12" >60</text><line x1="379.30" y1="100.15" x2="381.50" y2="100.15" stroke="#333" stroke-width="1" /><line x1="377.50" y1="91.44" x2="381.50" y2="91.44" stroke="#333" stroke-width="1" /><text x="374.20" y="94.84" font-size="10.3" text-anchor="end" font-family="Liberation Serif" fill="#000" stroke="#000" stroke-width="0.12" >70</text><line x1="379.30" y1="82.74" x2="381.50" y2="82.74" stroke="#333" stroke-width="1" /><line x1="377.50" y1="74.03" x2="381.50" y2="74.03" stroke="#333" stroke-width="1" /><text x="374.20" y="77.43" font-size="10.3" text-anchor="end" font-family="Liberation Serif" fill="#000" stroke="#000" stroke-width="0.12" >80</text><line x1="379.30" y1="65.33" x2="381.50" y2="65.33" stroke="#333" stroke-width="1" /><line x1="377.50" y1="56.62" x2="381.50" y2="56.62" stroke="#333" stroke-width="1" /><text x="374.20" y="60.02" font-size="10.3" text-anchor="end" font-family="Liberation Serif" fill="#000" stroke="#000" stroke-width="0.12" >90</text><line x1="379.30" y1="47.92" x2="381.50" y2="47.92" stroke="#333" stroke-width="1" /><line x1="377.50" y1="39.22" x2="381.50" y2="39.22" stroke="#333" stroke-width="1" /><text x="374.20" y="42.62" font-size="10.3" text-anchor="end" font-family="Liberation Serif" fill="#000" stroke="#000" stroke-width="0.12" >100</text><line x1="379.30" y1="30.51" x2="381.50" y2="30.51" stroke="#333" stroke-width="1" /><line x1="377.50" y1="21.81" x2="381.50" y2="21.81" stroke="#333" stroke-width="1" /><text x="374.20" y="25.21" font-size="10.3" text-anchor="end" font-family="Liberation Serif" fill="#000" stroke="#000" stroke-width="0.12" >110</text><line x1="379.30" y1="13.10" x2="381.50" y2="13.10" stroke="#333" stroke-width="1" /><line x1="377.50" y1="4.40" x2="381.50" y2="4.40" stroke="#333" stroke-width="1" /><text x="374.20" y="7.80" font-size="10.3" text-anchor="end" font-family="Liberation Serif" fill="#000" stroke="#000" stroke-width="0.12" >120</text><line x1="416.50" y1="213.30" x2="416.50" y2="217.30" stroke="#333" stroke-width="1" /><line x1="451.50" y1="213.30" x2="451.50" y2="215.50" stroke="#333" stroke-width="1" /><text x="416.50" y="228.90" font-size="11" text-anchor="middle" font-family="Liberation Serif" fill="#000" stroke="#000" stroke-width="0.12" >E0</text><line x1="486.50" y1="213.30" x2="486.50" y2="217.30" stroke="#333" stroke-width="1" /><line x1="521.50" y1="213.30" x2="521.50" y2="215.50" stroke="#333" stroke-width="1" /><text x="486.50" y="228.90" font-size="11" text-anchor="middle" font-family="Liberation Serif" fill="#000" stroke="#000" stroke-width="0.12" >E1</text><line x1="556.50" y1="213.30" x2="556.50" y2="217.30" stroke="#333" stroke-width="1" /><line x1="591.50" y1="213.30" x2="591.50" y2="215.50" stroke="#333" stroke-width="1" /><text x="556.50" y="228.90" font-size="11" text-anchor="middle" font-family="Liberation Serif" fill="#000" stroke="#000" stroke-width="0.12" >E2</text><line x1="626.50" y1="213.30" x2="626.50" y2="217.30" stroke="#333" stroke-width="1" /><line x1="661.50" y1="213.30" x2="661.50" y2="215.50" stroke="#333" stroke-width="1" /><text x="626.50" y="228.90" font-size="11" text-anchor="middle" font-family="Liberation Serif" fill="#000" stroke="#000" stroke-width="0.12" >E3</text><text x="519.60" y="240.90" font-size="11" text-anchor="middle" font-family="Liberation Serif" fill="#000" stroke="#000" stroke-width="0.12" >Samples</text><text transform="translate(354.5,102.7) rotate(-90)" font-size="10.75" text-anchor="middle" font-family="Liberation Serif" fill="#000" stroke="#000" stroke-width="0.12">Mean nomber of occurrences</text><rect x="386.1" y="7.4" width="24.2" height="12.1" fill="url(#gB)" stroke="#111" stroke-width="0.6"/><text x="413.7" y="16.9" font-size="10.6" font-family="Liberation Serif" fill="#000">COME+<tspan font-style="italic">F</tspan><tspan font-style="italic" font-size="6.6" dy="3">e</tspan><tspan font-style="italic" dy="-3">O</tspan><tspan font-style="italic" font-size="6.6" dy="3">3</tspan></text><rect x="473.9" y="7.4" width="24.2" height="12.1" fill="url(#gR)" stroke="#111" stroke-width="0.6"/><text x="500.4" y="16.9" font-size="10.6" font-family="Liberation Serif" fill="#000">COME+Z<tspan font-style="italic" font-size="6.6" dy="3">n</tspan><tspan font-style="italic" dy="-3">O</tspan></text><text transform="translate(516.70,258.60) scale(1.03,0.9)" x="0" y="0" font-size="15.5" text-anchor="middle" font-family="Liberation Sans" fill="#111" stroke="#111" stroke-width="0.1">(b)</text><line x1="64.40" y1="337.39" x2="64.40" y2="346.61" stroke="#111" stroke-width="1"/><rect x="50.40" y="342.00" width="28" height="153.80" fill="url(#gB)" stroke="#000040" stroke-width="0.6"/><line x1="64.40" y1="337.39" x2="64.40" y2="346.61" stroke="#111" stroke-width="1"/><line x1="61.10" y1="337.39" x2="67.70" y2="337.39" stroke="#111" stroke-width="1"/><line x1="61.10" y1="346.61" x2="67.70" y2="346.61" stroke="#111" stroke-width="1"/><text x="60.50" y="333.00" font-size="12.2" text-anchor="middle" font-family="Liberation Serif" fill="#000" stroke="#000" stroke-width="0.12" >190,24</text><line x1="135.00" y1="409.69" x2="135.00" y2="415.84" stroke="#111" stroke-width="1"/><rect x="121.00" y="412.76" width="28" height="83.04" fill="url(#gB)" stroke="#000040" stroke-width="0.6"/><line x1="135.00" y1="409.69" x2="135.00" y2="415.84" stroke="#111" stroke-width="1"/><line x1="131.70" y1="409.69" x2="138.30" y2="409.69" stroke="#111" stroke-width="1"/><line x1="131.70" y1="415.84" x2="138.30" y2="415.84" stroke="#111" stroke-width="1"/><text x="130.10" y="404.90" font-size="12.2" text-anchor="middle" font-family="Liberation Serif" fill="#000" stroke="#000" stroke-width="0.12" >102,71</text><line x1="163.00" y1="322.23" x2="163.00" y2="329.35" stroke="#111" stroke-width="1"/><rect x="149.00" y="325.79" width="28" height="170.01" fill="url(#gR)" stroke="#400000" stroke-width="0.6"/><line x1="163.00" y1="322.23" x2="163.00" y2="329.35" stroke="#111" stroke-width="1"/><line x1="159.70" y1="322.23" x2="166.30" y2="322.23" stroke="#111" stroke-width="1"/><line x1="159.70" y1="329.35" x2="166.30" y2="329.35" stroke="#111" stroke-width="1"/><text x="162.80" y="319.90" font-size="12.2" text-anchor="middle" font-family="Liberation Serif" fill="#000" stroke="#000" stroke-width="0.12" >210,29</text><line x1="206.10" y1="369.04" x2="206.10" y2="374.38" stroke="#111" stroke-width="1"/><rect x="192.10" y="371.71" width="28" height="124.09" fill="url(#gB)" stroke="#000040" stroke-width="0.6"/><line x1="206.10" y1="369.04" x2="206.10" y2="374.38" stroke="#111" stroke-width="1"/><line x1="202.80" y1="369.04" x2="209.40" y2="369.04" stroke="#111" stroke-width="1"/><line x1="202.80" y1="374.38" x2="209.40" y2="374.38" stroke="#111" stroke-width="1"/><text x="201.30" y="363.80" font-size="12.2" text-anchor="middle" font-family="Liberation Serif" fill="#000" stroke="#000" stroke-width="0.12" >153,49</text><line x1="234.10" y1="335.75" x2="234.10" y2="343.03" stroke="#111" stroke-width="1"/><rect x="220.10" y="339.39" width="28" height="156.41" fill="url(#gR)" stroke="#400000" stroke-width="0.6"/><line x1="234.10" y1="335.75" x2="234.10" y2="343.03" stroke="#111" stroke-width="1"/><line x1="230.80" y1="335.75" x2="237.40" y2="335.75" stroke="#111" stroke-width="1"/><line x1="230.80" y1="343.03" x2="237.40" y2="343.03" stroke="#111" stroke-width="1"/><text x="234.00" y="333.90" font-size="12.2" text-anchor="middle" font-family="Liberation Serif" fill="#000" stroke="#000" stroke-width="0.12" >193,47</text><line x1="276.20" y1="397.04" x2="276.20" y2="403.18" stroke="#111" stroke-width="1"/><rect x="262.20" y="400.11" width="28" height="95.69" fill="url(#gB)" stroke="#000040" stroke-width="0.6"/><line x1="276.20" y1="397.04" x2="276.20" y2="403.18" stroke="#111" stroke-width="1"/><line x1="272.90" y1="397.04" x2="279.50" y2="397.04" stroke="#111" stroke-width="1"/><line x1="272.90" y1="403.18" x2="279.50" y2="403.18" stroke="#111" stroke-width="1"/><text x="272.10" y="391.80" font-size="12.2" text-anchor="middle" font-family="Liberation Serif" fill="#000" stroke="#000" stroke-width="0.12" >118,36</text><line x1="304.20" y1="366.22" x2="304.20" y2="370.59" stroke="#111" stroke-width="1"/><rect x="290.20" y="368.40" width="28" height="127.40" fill="url(#gR)" stroke="#400000" stroke-width="0.6"/><line x1="304.20" y1="366.22" x2="304.20" y2="370.59" stroke="#111" stroke-width="1"/><line x1="300.90" y1="366.22" x2="307.50" y2="366.22" stroke="#111" stroke-width="1"/><line x1="300.90" y1="370.59" x2="307.50" y2="370.59" stroke="#111" stroke-width="1"/><text x="304.60" y="363.40" font-size="12.2" text-anchor="middle" font-family="Liberation Serif" fill="#000" stroke="#000" stroke-width="0.12" >157,58</text><line x1="42.90" y1="285.60" x2="326.20" y2="285.60" stroke="#555" stroke-width="1.2" /><line x1="325.70" y1="285.60" x2="325.70" y2="496.30" stroke="#222" stroke-width="1.2" /><line x1="43.40" y1="285.10" x2="43.40" y2="496.40" stroke="#444" stroke-width="1.4" /><line x1="39.40" y1="495.80" x2="326.20" y2="495.80" stroke="#444" stroke-width="1.4" /><line x1="39.40" y1="495.80" x2="43.40" y2="495.80" stroke="#333" stroke-width="1" /><text x="36.10" y="499.20" font-size="10.5" text-anchor="end" font-family="Liberation Serif" fill="#000" stroke="#000" stroke-width="0.12" >0</text><line x1="41.20" y1="487.72" x2="43.40" y2="487.72" stroke="#333" stroke-width="1" /><line x1="39.40" y1="479.63" x2="43.40" y2="479.63" stroke="#333" stroke-width="1" /><text x="36.10" y="483.03" font-size="10.5" text-anchor="end" font-family="Liberation Serif" fill="#000" stroke="#000" stroke-width="0.12" >20</text><line x1="41.20" y1="471.55" x2="43.40" y2="471.55" stroke="#333" stroke-width="1" /><line x1="39.40" y1="463.46" x2="43.40" y2="463.46" stroke="#333" stroke-width="1" /><text x="36.10" y="466.86" font-size="10.5" text-anchor="end" font-family="Liberation Serif" fill="#000" stroke="#000" stroke-width="0.12" >40</text><line x1="41.20" y1="455.38" x2="43.40" y2="455.38" stroke="#333" stroke-width="1" /><line x1="39.40" y1="447.29" x2="43.40" y2="447.29" stroke="#333" stroke-width="1" /><text x="36.10" y="450.69" font-size="10.5" text-anchor="end" font-family="Liberation Serif" fill="#000" stroke="#000" stroke-width="0.12" >60</text><line x1="41.20" y1="439.21" x2="43.40" y2="439.21" stroke="#333" stroke-width="1" /><line x1="39.40" y1="431.12" x2="43.40" y2="431.12" stroke="#333" stroke-width="1" /><text x="36.10" y="434.52" font-size="10.5" text-anchor="end" font-family="Liberation Serif" fill="#000" stroke="#000" stroke-width="0.12" >80</text><line x1="41.20" y1="423.04" x2="43.40" y2="423.04" stroke="#333" stroke-width="1" /><line x1="39.40" y1="414.95" x2="43.40" y2="414.95" stroke="#333" stroke-width="1" /><text x="36.10" y="418.35" font-size="10.5" text-anchor="end" font-family="Liberation Serif" fill="#000" stroke="#000" stroke-width="0.12" >100</text><line x1="41.20" y1="406.87" x2="43.40" y2="406.87" stroke="#333" stroke-width="1" /><line x1="39.40" y1="398.78" x2="43.40" y2="398.78" stroke="#333" stroke-width="1" /><text x="36.10" y="402.18" font-size="10.5" text-anchor="end" font-family="Liberation Serif" fill="#000" stroke="#000" stroke-width="0.12" >120</text><line x1="41.20" y1="390.70" x2="43.40" y2="390.70" stroke="#333" stroke-width="1" /><line x1="39.40" y1="382.62" x2="43.40" y2="382.62" stroke="#333" stroke-width="1" /><text x="36.10" y="386.02" font-size="10.5" text-anchor="end" font-family="Liberation Serif" fill="#000" stroke="#000" stroke-width="0.12" >140</text><line x1="41.20" y1="374.53" x2="43.40" y2="374.53" stroke="#333" stroke-width="1" /><line x1="39.40" y1="366.45" x2="43.40" y2="366.45" stroke="#333" stroke-width="1" /><text x="36.10" y="369.85" font-size="10.5" text-anchor="end" font-family="Liberation Serif" fill="#000" stroke="#000" stroke-width="0.12" >160</text><line x1="41.20" y1="358.36" x2="43.40" y2="358.36" stroke="#333" stroke-width="1" /><line x1="39.40" y1="350.28" x2="43.40" y2="350.28" stroke="#333" stroke-width="1" /><text x="36.10" y="353.68" font-size="10.5" text-anchor="end" font-family="Liberation Serif" fill="#000" stroke="#000" stroke-width="0.12" >180</text><line x1="41.20" y1="342.19" x2="43.40" y2="342.19" stroke="#333" stroke-width="1" /><line x1="39.40" y1="334.11" x2="43.40" y2="334.11" stroke="#333" stroke-width="1" /><text x="36.10" y="337.51" font-size="10.5" text-anchor="end" font-family="Liberation Serif" fill="#000" stroke="#000" stroke-width="0.12" >200</text><line x1="41.20" y1="326.02" x2="43.40" y2="326.02" stroke="#333" stroke-width="1" /><line x1="39.40" y1="317.94" x2="43.40" y2="317.94" stroke="#333" stroke-width="1" /><text x="36.10" y="321.34" font-size="10.5" text-anchor="end" font-family="Liberation Serif" fill="#000" stroke="#000" stroke-width="0.12" >220</text><line x1="41.20" y1="309.85" x2="43.40" y2="309.85" stroke="#333" stroke-width="1" /><line x1="39.40" y1="301.77" x2="43.40" y2="301.77" stroke="#333" stroke-width="1" /><text x="36.10" y="305.17" font-size="10.5" text-anchor="end" font-family="Liberation Serif" fill="#000" stroke="#000" stroke-width="0.12" >240</text><line x1="41.20" y1="293.68" x2="43.40" y2="293.68" stroke="#333" stroke-width="1" /><line x1="39.40" y1="285.60" x2="43.40" y2="285.60" stroke="#333" stroke-width="1" /><text x="36.10" y="289.00" font-size="10.5" text-anchor="end" font-family="Liberation Serif" fill="#000" stroke="#000" stroke-width="0.12" >260</text><line x1="78.40" y1="495.80" x2="78.40" y2="499.80" stroke="#333" stroke-width="1" /><line x1="113.70" y1="495.80" x2="113.70" y2="498.00" stroke="#333" stroke-width="1" /><text x="78.40" y="511.60" font-size="10" text-anchor="middle" font-family="Liberation Serif" fill="#000" stroke="#000" stroke-width="0.12" >E0</text><line x1="149.00" y1="495.80" x2="149.00" y2="499.80" stroke="#333" stroke-width="1" /><line x1="184.30" y1="495.80" x2="184.30" y2="498.00" stroke="#333" stroke-width="1" /><text x="149.00" y="511.60" font-size="10" text-anchor="middle" font-family="Liberation Serif" fill="#000" stroke="#000" stroke-width="0.12" >E1</text><line x1="220.10" y1="495.80" x2="220.10" y2="499.80" stroke="#333" stroke-width="1" /><line x1="255.40" y1="495.80" x2="255.40" y2="498.00" stroke="#333" stroke-width="1" /><text x="220.10" y="511.60" font-size="10" text-anchor="middle" font-family="Liberation Serif" fill="#000" stroke="#000" stroke-width="0.12" >E2</text><line x1="290.20" y1="495.80" x2="290.20" y2="499.80" stroke="#333" stroke-width="1" /><line x1="325.50" y1="495.80" x2="325.50" y2="498.00" stroke="#333" stroke-width="1" /><text x="290.20" y="511.60" font-size="10" text-anchor="middle" font-family="Liberation Serif" fill="#000" stroke="#000" stroke-width="0.12" >E3</text><text x="184.30" y="523.10" font-size="10.5" text-anchor="middle" font-family="Liberation Serif" fill="#000" stroke="#000" stroke-width="0.12" >Samples</text><text transform="translate(13.7,386) rotate(-90)" font-size="10.85" text-anchor="middle" font-family="Liberation Serif" fill="#000" stroke="#000" stroke-width="0.12">Mean apparent charge (pC)</text><rect x="46.5" y="288.1" width="24.5" height="11.6" fill="url(#gB)" stroke="#111" stroke-width="0.6"/><text x="74" y="297.8" font-size="10.6" font-family="Liberation Serif" fill="#000">COME+<tspan font-style="italic">F</tspan><tspan font-style="italic" font-size="6.6" dy="3">e</tspan><tspan font-style="italic" dy="-3">O</tspan><tspan font-style="italic" font-size="6.6" dy="3">3</tspan></text><rect x="134.8" y="288.1" width="24.5" height="11.6" fill="url(#gR)" stroke="#111" stroke-width="0.6"/><text x="162" y="297.8" font-size="10.6" font-family="Liberation Serif" fill="#000">COME+Z<tspan font-style="italic" font-size="6.6" dy="3">n</tspan><tspan font-style="italic" dy="-3">O</tspan></text><text transform="translate(181.00,544.60) scale(1.03,0.9)" x="0" y="0" font-size="14.5" text-anchor="middle" font-family="Liberation Sans" fill="#111" stroke="#111" stroke-width="0.1">(c)</text><line x1="149.5" y1="494.6" x2="177" y2="494.6" stroke="#e8c0c0" stroke-width="1.1"/><line x1="290.5" y1="494.6" x2="318.3" y2="494.6" stroke="#e8c0c0" stroke-width="1.1"/><line x1="412.20" y1="340.61" x2="412.20" y2="354.59" stroke="#111" stroke-width="1"/><rect x="398.20" y="347.60" width="28" height="145.70" fill="url(#gB)" stroke="#000040" stroke-width="0.6"/><line x1="412.20" y1="340.61" x2="412.20" y2="347.60" stroke="#111" stroke-width="1"/><line x1="408.90" y1="340.61" x2="415.50" y2="340.61" stroke="#111" stroke-width="1"/><text x="409.40" y="337.00" font-size="12.2" text-anchor="middle" font-family="Liberation Serif" fill="#000" stroke="#000" stroke-width="0.12" >495,82</text><line x1="481.30" y1="392.97" x2="481.30" y2="404.13" stroke="#111" stroke-width="1"/><rect x="467.30" y="398.55" width="28" height="94.75" fill="url(#gB)" stroke="#000040" stroke-width="0.6"/><line x1="481.30" y1="392.97" x2="481.30" y2="398.55" stroke="#111" stroke-width="1"/><line x1="478.00" y1="392.97" x2="484.60" y2="392.97" stroke="#111" stroke-width="1"/><text x="478.40" y="388.50" font-size="12.2" text-anchor="middle" font-family="Liberation Serif" fill="#000" stroke="#000" stroke-width="0.12" >322,43</text><line x1="509.30" y1="326.98" x2="509.30" y2="337.97" stroke="#111" stroke-width="1"/><rect x="495.30" y="332.48" width="28" height="160.82" fill="url(#gR)" stroke="#400000" stroke-width="0.6"/><line x1="509.30" y1="326.98" x2="509.30" y2="332.48" stroke="#111" stroke-width="1"/><line x1="506.00" y1="326.98" x2="512.60" y2="326.98" stroke="#111" stroke-width="1"/><text x="508.90" y="325.60" font-size="12.2" text-anchor="middle" font-family="Liberation Serif" fill="#000" stroke="#000" stroke-width="0.12" >547,28</text><line x1="550.60" y1="370.46" x2="550.60" y2="379.46" stroke="#111" stroke-width="1"/><rect x="536.60" y="374.96" width="28" height="118.34" fill="url(#gB)" stroke="#000040" stroke-width="0.6"/><line x1="550.60" y1="370.46" x2="550.60" y2="374.96" stroke="#111" stroke-width="1"/><line x1="547.30" y1="370.46" x2="553.90" y2="370.46" stroke="#111" stroke-width="1"/><text x="546.40" y="366.70" font-size="12.2" text-anchor="middle" font-family="Liberation Serif" fill="#000" stroke="#000" stroke-width="0.12" >402,71</text><line x1="578.60" y1="338.99" x2="578.60" y2="352.80" stroke="#111" stroke-width="1"/><rect x="564.60" y="345.90" width="28" height="147.40" fill="url(#gR)" stroke="#400000" stroke-width="0.6"/><line x1="578.60" y1="338.99" x2="578.60" y2="345.90" stroke="#111" stroke-width="1"/><line x1="575.30" y1="338.99" x2="581.90" y2="338.99" stroke="#111" stroke-width="1"/><text x="577.40" y="337.20" font-size="12.2" text-anchor="middle" font-family="Liberation Serif" fill="#000" stroke="#000" stroke-width="0.12" >501,61</text><line x1="619.00" y1="382.32" x2="619.00" y2="394.67" stroke="#111" stroke-width="1"/><rect x="605.00" y="388.50" width="28" height="104.80" fill="url(#gB)" stroke="#000040" stroke-width="0.6"/><line x1="619.00" y1="382.32" x2="619.00" y2="388.50" stroke="#111" stroke-width="1"/><line x1="615.70" y1="382.32" x2="622.30" y2="382.32" stroke="#111" stroke-width="1"/><text x="615.80" y="377.70" font-size="12.2" text-anchor="middle" font-family="Liberation Serif" fill="#000" stroke="#000" stroke-width="0.12" >356,65</text><line x1="647.00" y1="343.28" x2="647.00" y2="351.10" stroke="#111" stroke-width="1"/><rect x="633.00" y="347.19" width="28" height="146.11" fill="url(#gR)" stroke="#400000" stroke-width="0.6"/><line x1="647.00" y1="343.28" x2="647.00" y2="347.19" stroke="#111" stroke-width="1"/><line x1="643.70" y1="343.28" x2="650.30" y2="343.28" stroke="#111" stroke-width="1"/><text x="646.60" y="341.90" font-size="12.2" text-anchor="middle" font-family="Liberation Serif" fill="#000" stroke="#000" stroke-width="0.12" >497,22</text><line x1="391.60" y1="287.60" x2="667.90" y2="287.60" stroke="#555" stroke-width="1.2" /><line x1="667.40" y1="287.60" x2="667.40" y2="493.80" stroke="#222" stroke-width="1.2" /><line x1="392.10" y1="287.10" x2="392.10" y2="493.90" stroke="#444" stroke-width="1.4" /><line x1="388.10" y1="493.30" x2="667.90" y2="493.30" stroke="#444" stroke-width="1.4" /><line x1="388.10" y1="493.30" x2="392.10" y2="493.30" stroke="#333" stroke-width="1" /><text x="385.10" y="496.70" font-size="10.3" text-anchor="end" font-family="Liberation Serif" fill="#000" stroke="#000" stroke-width="0.12" >0</text><line x1="389.90" y1="485.95" x2="392.10" y2="485.95" stroke="#333" stroke-width="1" /><line x1="388.10" y1="478.61" x2="392.10" y2="478.61" stroke="#333" stroke-width="1" /><text x="385.10" y="482.01" font-size="10.3" text-anchor="end" font-family="Liberation Serif" fill="#000" stroke="#000" stroke-width="0.12" >50</text><line x1="389.90" y1="471.26" x2="392.10" y2="471.26" stroke="#333" stroke-width="1" /><line x1="388.10" y1="463.91" x2="392.10" y2="463.91" stroke="#333" stroke-width="1" /><text x="385.10" y="467.31" font-size="10.3" text-anchor="end" font-family="Liberation Serif" fill="#000" stroke="#000" stroke-width="0.12" >100</text><line x1="389.90" y1="456.57" x2="392.10" y2="456.57" stroke="#333" stroke-width="1" /><line x1="388.10" y1="449.22" x2="392.10" y2="449.22" stroke="#333" stroke-width="1" /><text x="385.10" y="452.62" font-size="10.3" text-anchor="end" font-family="Liberation Serif" fill="#000" stroke="#000" stroke-width="0.12" >150</text><line x1="389.90" y1="441.88" x2="392.10" y2="441.88" stroke="#333" stroke-width="1" /><line x1="388.10" y1="434.53" x2="392.10" y2="434.53" stroke="#333" stroke-width="1" /><text x="385.10" y="437.93" font-size="10.3" text-anchor="end" font-family="Liberation Serif" fill="#000" stroke="#000" stroke-width="0.12" >200</text><line x1="389.90" y1="427.18" x2="392.10" y2="427.18" stroke="#333" stroke-width="1" /><line x1="388.10" y1="419.84" x2="392.10" y2="419.84" stroke="#333" stroke-width="1" /><text x="385.10" y="423.24" font-size="10.3" text-anchor="end" font-family="Liberation Serif" fill="#000" stroke="#000" stroke-width="0.12" >250</text><line x1="389.90" y1="412.49" x2="392.10" y2="412.49" stroke="#333" stroke-width="1" /><line x1="388.10" y1="405.14" x2="392.10" y2="405.14" stroke="#333" stroke-width="1" /><text x="385.10" y="408.54" font-size="10.3" text-anchor="end" font-family="Liberation Serif" fill="#000" stroke="#000" stroke-width="0.12" >300</text><line x1="389.90" y1="397.80" x2="392.10" y2="397.80" stroke="#333" stroke-width="1" /><line x1="388.10" y1="390.45" x2="392.10" y2="390.45" stroke="#333" stroke-width="1" /><text x="385.10" y="393.85" font-size="10.3" text-anchor="end" font-family="Liberation Serif" fill="#000" stroke="#000" stroke-width="0.12" >350</text><line x1="389.90" y1="383.10" x2="392.10" y2="383.10" stroke="#333" stroke-width="1" /><line x1="388.10" y1="375.76" x2="392.10" y2="375.76" stroke="#333" stroke-width="1" /><text x="385.10" y="379.16" font-size="10.3" text-anchor="end" font-family="Liberation Serif" fill="#000" stroke="#000" stroke-width="0.12" >400</text><line x1="389.90" y1="368.41" x2="392.10" y2="368.41" stroke="#333" stroke-width="1" /><line x1="388.10" y1="361.06" x2="392.10" y2="361.06" stroke="#333" stroke-width="1" /><text x="385.10" y="364.46" font-size="10.3" text-anchor="end" font-family="Liberation Serif" fill="#000" stroke="#000" stroke-width="0.12" >450</text><line x1="389.90" y1="353.72" x2="392.10" y2="353.72" stroke="#333" stroke-width="1" /><line x1="388.10" y1="346.37" x2="392.10" y2="346.37" stroke="#333" stroke-width="1" /><text x="385.10" y="349.77" font-size="10.3" text-anchor="end" font-family="Liberation Serif" fill="#000" stroke="#000" stroke-width="0.12" >500</text><line x1="389.90" y1="339.02" x2="392.10" y2="339.02" stroke="#333" stroke-width="1" /><line x1="388.10" y1="331.68" x2="392.10" y2="331.68" stroke="#333" stroke-width="1" /><text x="385.10" y="335.08" font-size="10.3" text-anchor="end" font-family="Liberation Serif" fill="#000" stroke="#000" stroke-width="0.12" >550</text><line x1="389.90" y1="324.33" x2="392.10" y2="324.33" stroke="#333" stroke-width="1" /><line x1="388.10" y1="316.99" x2="392.10" y2="316.99" stroke="#333" stroke-width="1" /><text x="385.10" y="320.39" font-size="10.3" text-anchor="end" font-family="Liberation Serif" fill="#000" stroke="#000" stroke-width="0.12" >600</text><line x1="389.90" y1="309.64" x2="392.10" y2="309.64" stroke="#333" stroke-width="1" /><line x1="388.10" y1="302.29" x2="392.10" y2="302.29" stroke="#333" stroke-width="1" /><text x="385.10" y="305.69" font-size="10.3" text-anchor="end" font-family="Liberation Serif" fill="#000" stroke="#000" stroke-width="0.12" >650</text><line x1="389.90" y1="294.95" x2="392.10" y2="294.95" stroke="#333" stroke-width="1" /><line x1="388.10" y1="287.60" x2="392.10" y2="287.60" stroke="#333" stroke-width="1" /><text x="385.10" y="291.00" font-size="10.3" text-anchor="end" font-family="Liberation Serif" fill="#000" stroke="#000" stroke-width="0.12" >700</text><line x1="426.20" y1="493.30" x2="426.20" y2="497.30" stroke="#333" stroke-width="1" /><line x1="460.75" y1="493.30" x2="460.75" y2="495.50" stroke="#333" stroke-width="1" /><text x="426.20" y="508.40" font-size="10" text-anchor="middle" font-family="Liberation Serif" fill="#000" stroke="#000" stroke-width="0.12" >E0</text><line x1="495.30" y1="493.30" x2="495.30" y2="497.30" stroke="#333" stroke-width="1" /><line x1="529.85" y1="493.30" x2="529.85" y2="495.50" stroke="#333" stroke-width="1" /><text x="495.30" y="508.40" font-size="10" text-anchor="middle" font-family="Liberation Serif" fill="#000" stroke="#000" stroke-width="0.12" >E1</text><line x1="564.60" y1="493.30" x2="564.60" y2="497.30" stroke="#333" stroke-width="1" /><line x1="599.15" y1="493.30" x2="599.15" y2="495.50" stroke="#333" stroke-width="1" /><text x="564.60" y="508.40" font-size="10" text-anchor="middle" font-family="Liberation Serif" fill="#000" stroke="#000" stroke-width="0.12" >E2</text><line x1="633.00" y1="493.30" x2="633.00" y2="497.30" stroke="#333" stroke-width="1" /><line x1="667.55" y1="493.30" x2="667.55" y2="495.50" stroke="#333" stroke-width="1" /><text x="633.00" y="508.40" font-size="10" text-anchor="middle" font-family="Liberation Serif" fill="#000" stroke="#000" stroke-width="0.12" >E3</text><text x="529.30" y="521.00" font-size="10.5" text-anchor="middle" font-family="Liberation Serif" fill="#000" stroke="#000" stroke-width="0.12" >Samples</text><text transform="translate(361,398.2) rotate(-90)" font-size="11" text-anchor="middle" font-family="Liberation Serif" fill="#000" stroke="#000" stroke-width="0.12">|Q<tspan font-size="8.6" dy="2.8">max</tspan><tspan dy="-2.8">| (pC)</tspan></text><rect x="396.3" y="290.2" width="23.4" height="11.6" fill="url(#gB)" stroke="#111" stroke-width="0.6"/><text x="423" y="299.9" font-size="10.4" font-family="Liberation Serif" fill="#000">COME+<tspan font-style="italic">F</tspan><tspan font-style="italic" font-size="6.4" dy="3">e</tspan><tspan font-style="italic" dy="-3">O</tspan><tspan font-style="italic" font-size="6.4" dy="3">3</tspan></text><rect x="482" y="290.2" width="23.4" height="11.6" fill="url(#gR)" stroke="#111" stroke-width="0.6"/><text x="508.8" y="299.9" font-size="10.4" font-family="Liberation Serif" fill="#000">COME+Z<tspan font-style="italic" font-size="6.4" dy="3">n</tspan><tspan font-style="italic" dy="-3">O</tspan></text><text transform="translate(526.30,543.30) scale(1.03,0.9)" x="0" y="0" font-size="14.5" text-anchor="middle" font-family="Liberation Sans" fill="#111" stroke="#111" stroke-width="0.1">(d)</text><line x1="399.6" y1="492.1" x2="425.9" y2="492.1" stroke="#d0d0e0" stroke-width="1.1"/>
</svg></body></html>
